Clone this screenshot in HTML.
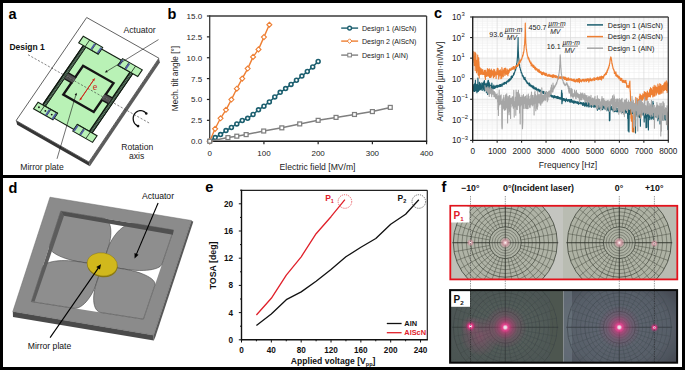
<!DOCTYPE html>
<html><head><meta charset="utf-8"><title>Figure</title>
<style>
html,body{margin:0;padding:0;background:#fff;}
body{width:685px;height:370px;overflow:hidden;font-family:"Liberation Sans", sans-serif;}
svg{display:block;font-family:"Liberation Sans", sans-serif;}
</style></head><body>
<svg width="685" height="370" viewBox="0 0 685 370" font-family="Liberation Sans, sans-serif">
<rect x="0" y="0" width="685" height="370" fill="#fff"/>
<defs><clipPath id="clipc"><rect x="472.7" y="17" width="195.6" height="123.4"/></clipPath></defs>
<polygon points="16.10,120.60 88.90,162.00 89.90,166.20 17.10,124.80" fill="#363636" stroke="none" stroke-width="1" />
<polygon points="88.90,162.00 158.90,58.20 159.90,62.40 89.90,166.20" fill="#5c5c5c" stroke="none" stroke-width="1" />
<polygon points="86.70,17.50 158.90,58.20 88.90,162.00 16.10,120.60" fill="#fff" stroke="#505050" stroke-width="0.9" />
<polygon points="83.34,45.50 98.11,53.91 101.51,48.96 121.41,60.29 118.02,65.24 132.79,73.64 92.13,132.94 77.35,124.53 73.96,129.48 54.05,118.15 57.45,113.20 42.67,104.80" fill="#b9f2b6" stroke="#142014" stroke-width="1.1" />
<polygon points="83.34,45.50 86.12,47.08 45.45,106.38 42.67,104.80" fill="#34463a" stroke="none" stroke-width="1" />
<polygon points="83.50,46.51 85.23,47.50 84.84,48.07 83.10,47.08" fill="#6f8f76" stroke="none" stroke-width="1" />
<polygon points="82.53,47.91 84.27,48.90 83.88,49.48 82.14,48.49" fill="#6f8f76" stroke="none" stroke-width="1" />
<polygon points="81.57,49.31 83.31,50.30 82.92,50.88 81.18,49.89" fill="#6f8f76" stroke="none" stroke-width="1" />
<polygon points="80.61,50.71 82.35,51.70 81.95,52.28 80.22,51.29" fill="#6f8f76" stroke="none" stroke-width="1" />
<polygon points="79.65,52.11 81.39,53.10 80.99,53.68 79.25,52.69" fill="#6f8f76" stroke="none" stroke-width="1" />
<polygon points="78.69,53.52 80.43,54.51 80.03,55.08 78.29,54.09" fill="#6f8f76" stroke="none" stroke-width="1" />
<polygon points="77.73,54.92 79.47,55.91 79.07,56.49 77.33,55.50" fill="#6f8f76" stroke="none" stroke-width="1" />
<polygon points="76.77,56.32 78.50,57.31 78.11,57.89 76.37,56.90" fill="#6f8f76" stroke="none" stroke-width="1" />
<polygon points="75.80,57.72 77.54,58.71 77.15,59.29 75.41,58.30" fill="#6f8f76" stroke="none" stroke-width="1" />
<polygon points="74.84,59.12 76.58,60.11 76.18,60.69 74.45,59.70" fill="#6f8f76" stroke="none" stroke-width="1" />
<polygon points="73.88,60.53 75.62,61.52 75.22,62.09 73.49,61.10" fill="#6f8f76" stroke="none" stroke-width="1" />
<polygon points="72.92,61.93 74.66,62.92 74.26,63.50 72.52,62.51" fill="#6f8f76" stroke="none" stroke-width="1" />
<polygon points="71.96,63.33 73.70,64.32 73.30,64.90 71.56,63.91" fill="#6f8f76" stroke="none" stroke-width="1" />
<polygon points="71.00,64.73 72.73,65.72 72.34,66.30 70.60,65.31" fill="#6f8f76" stroke="none" stroke-width="1" />
<polygon points="70.03,66.13 71.77,67.12 71.38,67.70 69.64,66.71" fill="#6f8f76" stroke="none" stroke-width="1" />
<polygon points="69.07,67.54 70.81,68.53 70.42,69.10 68.68,68.11" fill="#6f8f76" stroke="none" stroke-width="1" />
<polygon points="68.11,68.94 69.85,69.93 69.45,70.51 67.72,69.52" fill="#6f8f76" stroke="none" stroke-width="1" />
<polygon points="67.15,70.34 68.89,71.33 68.49,71.91 66.75,70.92" fill="#6f8f76" stroke="none" stroke-width="1" />
<polygon points="66.19,71.74 67.93,72.73 67.53,73.31 65.79,72.32" fill="#6f8f76" stroke="none" stroke-width="1" />
<polygon points="65.23,73.14 66.97,74.13 66.57,74.71 64.83,73.72" fill="#6f8f76" stroke="none" stroke-width="1" />
<polygon points="64.27,74.55 66.00,75.54 65.61,76.11 63.87,75.12" fill="#6f8f76" stroke="none" stroke-width="1" />
<polygon points="63.30,75.95 65.04,76.94 64.65,77.52 62.91,76.53" fill="#6f8f76" stroke="none" stroke-width="1" />
<polygon points="62.34,77.35 64.08,78.34 63.69,78.92 61.95,77.93" fill="#6f8f76" stroke="none" stroke-width="1" />
<polygon points="61.38,78.75 63.12,79.74 62.72,80.32 60.99,79.33" fill="#6f8f76" stroke="none" stroke-width="1" />
<polygon points="60.42,80.15 62.16,81.14 61.76,81.72 60.02,80.73" fill="#6f8f76" stroke="none" stroke-width="1" />
<polygon points="59.46,81.56 61.20,82.55 60.80,83.12 59.06,82.13" fill="#6f8f76" stroke="none" stroke-width="1" />
<polygon points="58.50,82.96 60.23,83.95 59.84,84.53 58.10,83.54" fill="#6f8f76" stroke="none" stroke-width="1" />
<polygon points="57.54,84.36 59.27,85.35 58.88,85.93 57.14,84.94" fill="#6f8f76" stroke="none" stroke-width="1" />
<polygon points="56.57,85.76 58.31,86.75 57.92,87.33 56.18,86.34" fill="#6f8f76" stroke="none" stroke-width="1" />
<polygon points="55.61,87.16 57.35,88.15 56.95,88.73 55.22,87.74" fill="#6f8f76" stroke="none" stroke-width="1" />
<polygon points="54.65,88.57 56.39,89.56 55.99,90.13 54.25,89.14" fill="#6f8f76" stroke="none" stroke-width="1" />
<polygon points="53.69,89.97 55.43,90.96 55.03,91.53 53.29,90.55" fill="#6f8f76" stroke="none" stroke-width="1" />
<polygon points="52.73,91.37 54.47,92.36 54.07,92.94 52.33,91.95" fill="#6f8f76" stroke="none" stroke-width="1" />
<polygon points="51.77,92.77 53.50,93.76 53.11,94.34 51.37,93.35" fill="#6f8f76" stroke="none" stroke-width="1" />
<polygon points="50.80,94.17 52.54,95.16 52.15,95.74 50.41,94.75" fill="#6f8f76" stroke="none" stroke-width="1" />
<polygon points="49.84,95.58 51.58,96.57 51.19,97.14 49.45,96.15" fill="#6f8f76" stroke="none" stroke-width="1" />
<polygon points="48.88,96.98 50.62,97.97 50.22,98.54 48.49,97.56" fill="#6f8f76" stroke="none" stroke-width="1" />
<polygon points="47.92,98.38 49.66,99.37 49.26,99.95 47.52,98.96" fill="#6f8f76" stroke="none" stroke-width="1" />
<polygon points="46.96,99.78 48.70,100.77 48.30,101.35 46.56,100.36" fill="#6f8f76" stroke="none" stroke-width="1" />
<polygon points="46.00,101.18 47.74,102.17 47.34,102.75 45.60,101.76" fill="#6f8f76" stroke="none" stroke-width="1" />
<polygon points="45.04,102.59 46.77,103.58 46.38,104.15 44.64,103.16" fill="#6f8f76" stroke="none" stroke-width="1" />
<polygon points="44.07,103.99 45.81,104.98 45.42,105.55 43.68,104.57" fill="#6f8f76" stroke="none" stroke-width="1" />
<line x1="83.34" y1="45.50" x2="42.67" y2="104.80" stroke="#0d150d" stroke-width="1.3" />
<line x1="86.12" y1="47.08" x2="45.45" y2="106.38" stroke="#0d150d" stroke-width="0.9" />
<polygon points="130.01,72.06 132.79,73.64 92.13,132.94 89.34,131.36" fill="#34463a" stroke="none" stroke-width="1" />
<polygon points="130.17,73.07 131.91,74.06 131.51,74.63 129.77,73.64" fill="#6f8f76" stroke="none" stroke-width="1" />
<polygon points="129.21,74.47 130.94,75.46 130.55,76.04 128.81,75.05" fill="#6f8f76" stroke="none" stroke-width="1" />
<polygon points="128.24,75.87 129.98,76.86 129.59,77.44 127.85,76.45" fill="#6f8f76" stroke="none" stroke-width="1" />
<polygon points="127.28,77.27 129.02,78.26 128.62,78.84 126.89,77.85" fill="#6f8f76" stroke="none" stroke-width="1" />
<polygon points="126.32,78.67 128.06,79.66 127.66,80.24 125.92,79.25" fill="#6f8f76" stroke="none" stroke-width="1" />
<polygon points="125.36,80.08 127.10,81.07 126.70,81.64 124.96,80.65" fill="#6f8f76" stroke="none" stroke-width="1" />
<polygon points="124.40,81.48 126.14,82.47 125.74,83.05 124.00,82.06" fill="#6f8f76" stroke="none" stroke-width="1" />
<polygon points="123.44,82.88 125.17,83.87 124.78,84.45 123.04,83.46" fill="#6f8f76" stroke="none" stroke-width="1" />
<polygon points="122.47,84.28 124.21,85.27 123.82,85.85 122.08,84.86" fill="#6f8f76" stroke="none" stroke-width="1" />
<polygon points="121.51,85.68 123.25,86.67 122.86,87.25 121.12,86.26" fill="#6f8f76" stroke="none" stroke-width="1" />
<polygon points="120.55,87.09 122.29,88.08 121.89,88.65 120.16,87.66" fill="#6f8f76" stroke="none" stroke-width="1" />
<polygon points="119.59,88.49 121.33,89.48 120.93,90.06 119.19,89.07" fill="#6f8f76" stroke="none" stroke-width="1" />
<polygon points="118.63,89.89 120.37,90.88 119.97,91.46 118.23,90.47" fill="#6f8f76" stroke="none" stroke-width="1" />
<polygon points="117.67,91.29 119.41,92.28 119.01,92.86 117.27,91.87" fill="#6f8f76" stroke="none" stroke-width="1" />
<polygon points="116.71,92.69 118.44,93.68 118.05,94.26 116.31,93.27" fill="#6f8f76" stroke="none" stroke-width="1" />
<polygon points="115.74,94.10 117.48,95.09 117.09,95.66 115.35,94.67" fill="#6f8f76" stroke="none" stroke-width="1" />
<polygon points="114.78,95.50 116.52,96.49 116.12,97.07 114.39,96.08" fill="#6f8f76" stroke="none" stroke-width="1" />
<polygon points="113.82,96.90 115.56,97.89 115.16,98.47 113.43,97.48" fill="#6f8f76" stroke="none" stroke-width="1" />
<polygon points="112.86,98.30 114.60,99.29 114.20,99.87 112.46,98.88" fill="#6f8f76" stroke="none" stroke-width="1" />
<polygon points="111.90,99.70 113.64,100.69 113.24,101.27 111.50,100.28" fill="#6f8f76" stroke="none" stroke-width="1" />
<polygon points="110.94,101.11 112.67,102.10 112.28,102.67 110.54,101.68" fill="#6f8f76" stroke="none" stroke-width="1" />
<polygon points="109.97,102.51 111.71,103.50 111.32,104.08 109.58,103.09" fill="#6f8f76" stroke="none" stroke-width="1" />
<polygon points="109.01,103.91 110.75,104.90 110.36,105.48 108.62,104.49" fill="#6f8f76" stroke="none" stroke-width="1" />
<polygon points="108.05,105.31 109.79,106.30 109.39,106.88 107.66,105.89" fill="#6f8f76" stroke="none" stroke-width="1" />
<polygon points="107.09,106.71 108.83,107.70 108.43,108.28 106.69,107.29" fill="#6f8f76" stroke="none" stroke-width="1" />
<polygon points="106.13,108.12 107.87,109.11 107.47,109.68 105.73,108.69" fill="#6f8f76" stroke="none" stroke-width="1" />
<polygon points="105.17,109.52 106.91,110.51 106.51,111.09 104.77,110.10" fill="#6f8f76" stroke="none" stroke-width="1" />
<polygon points="104.21,110.92 105.94,111.91 105.55,112.49 103.81,111.50" fill="#6f8f76" stroke="none" stroke-width="1" />
<polygon points="103.24,112.32 104.98,113.31 104.59,113.89 102.85,112.90" fill="#6f8f76" stroke="none" stroke-width="1" />
<polygon points="102.28,113.72 104.02,114.71 103.63,115.29 101.89,114.30" fill="#6f8f76" stroke="none" stroke-width="1" />
<polygon points="101.32,115.13 103.06,116.12 102.66,116.69 100.93,115.70" fill="#6f8f76" stroke="none" stroke-width="1" />
<polygon points="100.36,116.53 102.10,117.52 101.70,118.09 99.96,117.11" fill="#6f8f76" stroke="none" stroke-width="1" />
<polygon points="99.40,117.93 101.14,118.92 100.74,119.50 99.00,118.51" fill="#6f8f76" stroke="none" stroke-width="1" />
<polygon points="98.44,119.33 100.17,120.32 99.78,120.90 98.04,119.91" fill="#6f8f76" stroke="none" stroke-width="1" />
<polygon points="97.48,120.73 99.21,121.72 98.82,122.30 97.08,121.31" fill="#6f8f76" stroke="none" stroke-width="1" />
<polygon points="96.51,122.14 98.25,123.13 97.86,123.70 96.12,122.71" fill="#6f8f76" stroke="none" stroke-width="1" />
<polygon points="95.55,123.54 97.29,124.53 96.89,125.10 95.16,124.12" fill="#6f8f76" stroke="none" stroke-width="1" />
<polygon points="94.59,124.94 96.33,125.93 95.93,126.51 94.19,125.52" fill="#6f8f76" stroke="none" stroke-width="1" />
<polygon points="93.63,126.34 95.37,127.33 94.97,127.91 93.23,126.92" fill="#6f8f76" stroke="none" stroke-width="1" />
<polygon points="92.67,127.74 94.41,128.73 94.01,129.31 92.27,128.32" fill="#6f8f76" stroke="none" stroke-width="1" />
<polygon points="91.71,129.15 93.44,130.14 93.05,130.71 91.31,129.72" fill="#6f8f76" stroke="none" stroke-width="1" />
<polygon points="90.74,130.55 92.48,131.54 92.09,132.11 90.35,131.13" fill="#6f8f76" stroke="none" stroke-width="1" />
<line x1="130.01" y1="72.06" x2="89.34" y2="131.36" stroke="#0d150d" stroke-width="1.3" />
<line x1="132.79" y1="73.64" x2="92.13" y2="132.94" stroke="#0d150d" stroke-width="0.9" />
<polygon points="83.26,36.28 102.64,47.31 98.11,53.91 78.73,42.88" fill="#b9f2b6" stroke="#142014" stroke-width="1.1" />
<line x1="89.69" y1="39.94" x2="85.17" y2="46.54" stroke="#142014" stroke-width="0.8" />
<line x1="96.12" y1="43.60" x2="91.60" y2="50.20" stroke="#142014" stroke-width="0.8" />
<polygon points="94.05,43.45 95.61,44.34 91.88,49.79 90.32,48.90" fill="#4f5fa0" stroke="none" stroke-width="1" />
<polygon points="100.57,47.16 102.13,48.05 98.40,53.50 96.83,52.61" fill="#4f5fa0" stroke="none" stroke-width="1" />
<polygon points="122.54,58.64 142.27,69.87 137.75,76.46 118.02,65.24" fill="#b9f2b6" stroke="#142014" stroke-width="1.1" />
<line x1="129.06" y1="62.35" x2="124.54" y2="68.94" stroke="#142014" stroke-width="0.8" />
<line x1="135.58" y1="66.06" x2="131.05" y2="72.65" stroke="#142014" stroke-width="0.8" />
<polygon points="122.03,59.38 123.60,60.27 119.86,65.71 118.30,64.82" fill="#4f5fa0" stroke="none" stroke-width="1" />
<polygon points="128.55,63.09 130.12,63.98 126.38,69.42 124.82,68.53" fill="#4f5fa0" stroke="none" stroke-width="1" />
<polygon points="38.07,102.18 57.45,113.20 52.92,119.80 33.54,108.77" fill="#b9f2b6" stroke="#142014" stroke-width="1.1" />
<line x1="44.50" y1="105.84" x2="39.97" y2="112.43" stroke="#142014" stroke-width="0.8" />
<line x1="50.93" y1="109.50" x2="46.41" y2="116.09" stroke="#142014" stroke-width="0.8" />
<polygon points="48.86,109.35 50.42,110.24 46.69,115.68 45.12,114.79" fill="#4f5fa0" stroke="none" stroke-width="1" />
<polygon points="55.37,113.06 56.94,113.95 53.21,119.39 51.64,118.50" fill="#4f5fa0" stroke="none" stroke-width="1" />
<polygon points="77.35,124.53 97.08,135.76 92.55,142.36 72.83,131.13" fill="#b9f2b6" stroke="#142014" stroke-width="1.1" />
<line x1="83.87" y1="128.24" x2="79.34" y2="134.84" stroke="#142014" stroke-width="0.8" />
<line x1="90.39" y1="131.95" x2="85.86" y2="138.55" stroke="#142014" stroke-width="0.8" />
<polygon points="76.84,125.27 78.41,126.16 74.67,131.61 73.11,130.72" fill="#4f5fa0" stroke="none" stroke-width="1" />
<polygon points="83.36,128.98 84.92,129.87 81.19,135.32 79.63,134.43" fill="#4f5fa0" stroke="none" stroke-width="1" />
<circle cx="38.93" cy="107.25" r="0.9" fill="#111"/>
<circle cx="45.37" cy="110.91" r="0.9" fill="#111"/>
<circle cx="51.71" cy="114.53" r="0.9" fill="#111"/>
<polygon points="83.09,65.77 113.51,83.08 93.72,111.94 63.30,94.63" fill="#b9f2b6" stroke="#151515" stroke-width="2.4" />
<polygon points="68.36,72.98 76.36,77.53 72.40,83.30 64.40,78.75" fill="#505050" stroke="none" stroke-width="1" />
<line x1="66.64" y1="76.01" x2="74.12" y2="80.27" stroke="#8a8a8a" stroke-width="0.5" />
<line x1="68.36" y1="72.98" x2="76.36" y2="77.53" stroke="#151515" stroke-width="1.4" />
<line x1="64.40" y1="78.75" x2="72.40" y2="83.30" stroke="#151515" stroke-width="1.4" />
<polygon points="104.86,93.75 112.25,97.96 108.29,103.73 100.90,99.53" fill="#505050" stroke="none" stroke-width="1" />
<line x1="103.14" y1="96.79" x2="110.01" y2="100.69" stroke="#8a8a8a" stroke-width="0.5" />
<line x1="104.86" y1="93.75" x2="112.25" y2="97.96" stroke="#151515" stroke-width="1.4" />
<line x1="100.90" y1="99.53" x2="108.29" y2="103.73" stroke="#151515" stroke-width="1.4" />
<line x1="28.00" y1="54.70" x2="150.40" y2="123.70" stroke="#333" stroke-width="0.6" stroke-dasharray="2.2 1.6"/>
<line x1="94.70" y1="78.45" x2="80.90" y2="98.57" stroke="#cc2a1c" stroke-width="0.9" />
<polygon points="79.71,100.30 80.11,97.42 82.25,98.90" fill="#cc2a1c" stroke="none" stroke-width="1" />
<line x1="79.71" y1="100.30" x2="93.51" y2="80.18" stroke="#cc2a1c" stroke-width="0.9" />
<polygon points="94.70,78.45 94.30,81.33 92.15,79.86" fill="#cc2a1c" stroke="none" stroke-width="1" />
<text x="92.8" y="89.8" font-size="10" font-family="Liberation Serif, serif" fill="#cc2a1c">e</text>
<line x1="158.50" y1="39.60" x2="106.69" y2="71.40" stroke="#111" stroke-width="0.6" />
<polygon points="104.90,72.50 106.49,70.12 107.74,72.16" fill="#111" stroke="none" stroke-width="1" />
<line x1="57.00" y1="158.80" x2="75.91" y2="94.71" stroke="#111" stroke-width="0.6" />
<polygon points="76.50,92.70 76.92,95.53 74.61,94.85" fill="#111" stroke="none" stroke-width="1" />
<polyline points="146.3,113.5 145.8,112.9 145.3,112.4 144.8,112.0 144.2,111.6 143.6,111.3 142.9,111.0 142.3,110.8 141.6,110.7 141.0,110.6 140.3,110.6 139.6,110.7 138.9,110.8 138.3,111.0 137.6,111.3 137.0,111.6 136.5,112.0 135.9,112.4 135.4,112.9 135.0,113.4 134.5,114.0 134.2,114.6 133.9,115.3 133.6,116.0 133.4,116.7 133.3,117.4 133.2,118.1 133.2,118.8 133.3,119.6 133.4,120.3 133.5,121.0 133.8,121.7 134.1,122.4 134.4,123.0 134.8,123.6 135.3,124.1 135.7,124.6 136.3,125.1 136.8,125.5 137.4,125.8 138.1,126.1" fill="none" stroke="#111" stroke-width="1.3" stroke-linejoin="round" />
<circle cx="146.27" cy="113.46" r="1.3" fill="#111"/>
<circle cx="138.07" cy="126.11" r="1.3" fill="#111"/>
<text x="8.60" y="18.60" font-size="14.5" text-anchor="start" font-weight="bold" fill="#000" >a</text>
<text x="9.40" y="50.40" font-size="8.5" text-anchor="start" font-weight="bold" fill="#111" >Design 1</text>
<text x="123.40" y="32.90" font-size="8.7" text-anchor="start" fill="#222" >Actuator</text>
<text x="20.30" y="170.20" font-size="8.6" text-anchor="start" fill="#222" >Mirror plate</text>
<text x="137.20" y="149.90" font-size="8.6" text-anchor="middle" fill="#222" >Rotation</text>
<text x="136.70" y="159.30" font-size="8.6" text-anchor="middle" fill="#222" >axis</text>
<line x1="209.70" y1="16.00" x2="426.60" y2="16.00" stroke="#3a3a3a" stroke-width="1.3" />
<line x1="426.60" y1="16.00" x2="426.60" y2="141.20" stroke="#3a3a3a" stroke-width="1.3" />
<line x1="209.70" y1="15.35" x2="209.70" y2="141.80" stroke="#3a3a3a" stroke-width="1.3" />
<line x1="209.10" y1="141.20" x2="427.20" y2="141.20" stroke="#1a1a1a" stroke-width="1.4" />
<line x1="206.90" y1="141.20" x2="209.70" y2="141.20" stroke="#222" stroke-width="1.2" />
<text x="202.20" y="144.10" font-size="8" text-anchor="end" fill="#222" >0.0</text>
<line x1="206.90" y1="120.33" x2="209.70" y2="120.33" stroke="#222" stroke-width="1.2" />
<text x="202.20" y="123.23" font-size="8" text-anchor="end" fill="#222" >2.5</text>
<line x1="206.90" y1="99.47" x2="209.70" y2="99.47" stroke="#222" stroke-width="1.2" />
<text x="202.20" y="102.37" font-size="8" text-anchor="end" fill="#222" >5.0</text>
<line x1="206.90" y1="78.60" x2="209.70" y2="78.60" stroke="#222" stroke-width="1.2" />
<text x="202.20" y="81.50" font-size="8" text-anchor="end" fill="#222" >7.5</text>
<line x1="206.90" y1="57.73" x2="209.70" y2="57.73" stroke="#222" stroke-width="1.2" />
<text x="202.20" y="60.63" font-size="8" text-anchor="end" fill="#222" >10.0</text>
<line x1="206.90" y1="36.87" x2="209.70" y2="36.87" stroke="#222" stroke-width="1.2" />
<text x="202.20" y="39.77" font-size="8" text-anchor="end" fill="#222" >12.5</text>
<line x1="206.90" y1="16.00" x2="209.70" y2="16.00" stroke="#222" stroke-width="1.2" />
<text x="202.20" y="18.90" font-size="8" text-anchor="end" fill="#222" >15.0</text>
<line x1="209.70" y1="141.20" x2="209.70" y2="144.20" stroke="#222" stroke-width="1.2" />
<text x="209.70" y="155.90" font-size="8" text-anchor="middle" fill="#222" >0</text>
<line x1="263.93" y1="141.20" x2="263.93" y2="144.20" stroke="#222" stroke-width="1.2" />
<text x="263.93" y="155.90" font-size="8" text-anchor="middle" fill="#222" >100</text>
<line x1="318.15" y1="141.20" x2="318.15" y2="144.20" stroke="#222" stroke-width="1.2" />
<text x="318.15" y="155.90" font-size="8" text-anchor="middle" fill="#222" >200</text>
<line x1="372.38" y1="141.20" x2="372.38" y2="144.20" stroke="#222" stroke-width="1.2" />
<text x="372.38" y="155.90" font-size="8" text-anchor="middle" fill="#222" >300</text>
<line x1="426.60" y1="141.20" x2="426.60" y2="144.20" stroke="#222" stroke-width="1.2" />
<text x="426.60" y="155.90" font-size="8" text-anchor="middle" fill="#222" >400</text>
<text x="317.50" y="170.00" font-size="8.6" text-anchor="middle" fill="#222" >Electric field [MV/m]</text>
<text x="0" y="0" font-size="8.2" text-anchor="middle" fill="#222" transform="translate(177.6 78.6) rotate(-90)">Mech. tilt angle [°]</text>
<polyline points="209.7,141.2 215.1,137.6 220.5,134.6 226.0,130.6 231.4,127.5 236.8,123.9 242.2,120.5 247.7,118.3 253.1,114.5 258.5,109.8 263.9,106.2 269.3,102.0 274.8,97.0 280.2,92.4 285.6,88.6 291.0,84.4 296.5,80.3 301.9,76.1 307.3,71.5 312.7,66.9 318.1,61.5" fill="none" stroke="#1c5f6f" stroke-width="1.5" stroke-linejoin="round" />
<circle cx="209.70" cy="141.20" r="1.95" fill="#fff" stroke="#1c5f6f" stroke-width="1.6"/>
<circle cx="215.12" cy="137.61" r="1.95" fill="#fff" stroke="#1c5f6f" stroke-width="1.6"/>
<circle cx="220.54" cy="134.61" r="1.95" fill="#fff" stroke="#1c5f6f" stroke-width="1.6"/>
<circle cx="225.97" cy="130.60" r="1.95" fill="#fff" stroke="#1c5f6f" stroke-width="1.6"/>
<circle cx="231.39" cy="127.51" r="1.95" fill="#fff" stroke="#1c5f6f" stroke-width="1.6"/>
<circle cx="236.81" cy="123.92" r="1.95" fill="#fff" stroke="#1c5f6f" stroke-width="1.6"/>
<circle cx="242.24" cy="120.50" r="1.95" fill="#fff" stroke="#1c5f6f" stroke-width="1.6"/>
<circle cx="247.66" cy="118.33" r="1.95" fill="#fff" stroke="#1c5f6f" stroke-width="1.6"/>
<circle cx="253.08" cy="114.49" r="1.95" fill="#fff" stroke="#1c5f6f" stroke-width="1.6"/>
<circle cx="258.50" cy="109.82" r="1.95" fill="#fff" stroke="#1c5f6f" stroke-width="1.6"/>
<circle cx="263.93" cy="106.23" r="1.95" fill="#fff" stroke="#1c5f6f" stroke-width="1.6"/>
<circle cx="269.35" cy="101.97" r="1.95" fill="#fff" stroke="#1c5f6f" stroke-width="1.6"/>
<circle cx="274.77" cy="96.96" r="1.95" fill="#fff" stroke="#1c5f6f" stroke-width="1.6"/>
<circle cx="280.19" cy="92.37" r="1.95" fill="#fff" stroke="#1c5f6f" stroke-width="1.6"/>
<circle cx="285.62" cy="88.62" r="1.95" fill="#fff" stroke="#1c5f6f" stroke-width="1.6"/>
<circle cx="291.04" cy="84.44" r="1.95" fill="#fff" stroke="#1c5f6f" stroke-width="1.6"/>
<circle cx="296.46" cy="80.27" r="1.95" fill="#fff" stroke="#1c5f6f" stroke-width="1.6"/>
<circle cx="301.88" cy="76.10" r="1.95" fill="#fff" stroke="#1c5f6f" stroke-width="1.6"/>
<circle cx="307.31" cy="71.51" r="1.95" fill="#fff" stroke="#1c5f6f" stroke-width="1.6"/>
<circle cx="312.73" cy="66.91" r="1.95" fill="#fff" stroke="#1c5f6f" stroke-width="1.6"/>
<circle cx="318.15" cy="61.49" r="1.95" fill="#fff" stroke="#1c5f6f" stroke-width="1.6"/>
<polyline points="209.7,141.2 215.1,128.8 220.5,118.3 226.0,109.8 231.4,99.6 236.8,88.7 242.2,78.6 247.7,68.6 253.1,56.9 258.5,49.4 263.9,37.1 269.3,24.8" fill="none" stroke="#ee7f33" stroke-width="1.4" stroke-linejoin="round" />
<polygon points="209.70,138.70 212.20,141.20 209.70,143.70 207.20,141.20" fill="#fff" stroke="#ee7f33" stroke-width="1.1" />
<polygon points="215.12,126.35 217.62,128.85 215.12,131.35 212.62,128.85" fill="#fff" stroke="#ee7f33" stroke-width="1.1" />
<polygon points="220.54,115.83 223.04,118.33 220.54,120.83 218.04,118.33" fill="#fff" stroke="#ee7f33" stroke-width="1.1" />
<polygon points="225.97,107.32 228.47,109.82 225.97,112.32 223.47,109.82" fill="#fff" stroke="#ee7f33" stroke-width="1.1" />
<polygon points="231.39,97.05 233.89,99.55 231.39,102.05 228.89,99.55" fill="#fff" stroke="#ee7f33" stroke-width="1.1" />
<polygon points="236.81,86.20 239.31,88.70 236.81,91.20 234.31,88.70" fill="#fff" stroke="#ee7f33" stroke-width="1.1" />
<polygon points="242.24,76.10 244.74,78.60 242.24,81.10 239.74,78.60" fill="#fff" stroke="#ee7f33" stroke-width="1.1" />
<polygon points="247.66,66.08 250.16,68.58 247.66,71.08 245.16,68.58" fill="#fff" stroke="#ee7f33" stroke-width="1.1" />
<polygon points="253.08,54.40 255.58,56.90 253.08,59.40 250.58,56.90" fill="#fff" stroke="#ee7f33" stroke-width="1.1" />
<polygon points="258.50,46.89 261.00,49.39 258.50,51.89 256.00,49.39" fill="#fff" stroke="#ee7f33" stroke-width="1.1" />
<polygon points="263.93,34.62 266.43,37.12 263.93,39.62 261.43,37.12" fill="#fff" stroke="#ee7f33" stroke-width="1.1" />
<polygon points="269.35,22.26 271.85,24.76 269.35,27.26 266.85,24.76" fill="#fff" stroke="#ee7f33" stroke-width="1.1" />
<polyline points="209.7,141.2 227.9,137.6 236.8,136.2 246.1,134.6 263.7,131.0 281.8,127.8 299.7,123.9 318.1,120.3 336.0,117.4 354.5,114.5 372.4,111.6 390.3,107.4" fill="none" stroke="#7f7f7f" stroke-width="1.5" stroke-linejoin="round" />
<rect x="207.75" y="139.25" width="3.9" height="3.9" fill="#fff" stroke="#7f7f7f" stroke-width="1.25"/>
<rect x="225.97" y="135.66" width="3.9" height="3.9" fill="#fff" stroke="#7f7f7f" stroke-width="1.25"/>
<rect x="234.86" y="134.24" width="3.9" height="3.9" fill="#fff" stroke="#7f7f7f" stroke-width="1.25"/>
<rect x="244.19" y="132.66" width="3.9" height="3.9" fill="#fff" stroke="#7f7f7f" stroke-width="1.25"/>
<rect x="261.76" y="129.07" width="3.9" height="3.9" fill="#fff" stroke="#7f7f7f" stroke-width="1.25"/>
<rect x="279.87" y="125.90" width="3.9" height="3.9" fill="#fff" stroke="#7f7f7f" stroke-width="1.25"/>
<rect x="297.76" y="121.97" width="3.9" height="3.9" fill="#fff" stroke="#7f7f7f" stroke-width="1.25"/>
<rect x="316.20" y="118.38" width="3.9" height="3.9" fill="#fff" stroke="#7f7f7f" stroke-width="1.25"/>
<rect x="334.09" y="115.46" width="3.9" height="3.9" fill="#fff" stroke="#7f7f7f" stroke-width="1.25"/>
<rect x="352.53" y="112.54" width="3.9" height="3.9" fill="#fff" stroke="#7f7f7f" stroke-width="1.25"/>
<rect x="370.43" y="109.62" width="3.9" height="3.9" fill="#fff" stroke="#7f7f7f" stroke-width="1.25"/>
<rect x="388.32" y="105.45" width="3.9" height="3.9" fill="#fff" stroke="#7f7f7f" stroke-width="1.25"/>
<line x1="341.20" y1="28.10" x2="358.10" y2="28.10" stroke="#1c5f6f" stroke-width="1.4" />
<circle cx="349.6" cy="28.1" r="1.9" fill="#fff" stroke="#1c5f6f" stroke-width="1.4"/>
<text x="362.00" y="30.70" font-size="7.1" text-anchor="start" fill="#222" >Design 1 (AlScN)</text>
<line x1="341.20" y1="41.10" x2="358.10" y2="41.10" stroke="#ee7f33" stroke-width="1.4" />
<polygon points="349.60,38.80 351.90,41.10 349.60,43.40 347.30,41.10" fill="#fff" stroke="#ee7f33" stroke-width="1.0" />
<text x="362.00" y="43.70" font-size="7.1" text-anchor="start" fill="#222" >Design 2 (AlScN)</text>
<line x1="341.20" y1="55.10" x2="358.10" y2="55.10" stroke="#7f7f7f" stroke-width="1.4" />
<rect x="347.8" y="53.300000000000004" width="3.6" height="3.6" fill="#fff" stroke="#7f7f7f" stroke-width="1.0"/>
<text x="362.00" y="57.70" font-size="7.1" text-anchor="start" fill="#222" >Design 1 (AlN)</text>
<text x="167.60" y="18.80" font-size="14.5" text-anchor="start" font-weight="bold" fill="#000" >b</text>
<line x1="477.59" y1="17.00" x2="477.59" y2="140.40" stroke="#efefef" stroke-width="0.6" />
<line x1="482.48" y1="17.00" x2="482.48" y2="140.40" stroke="#efefef" stroke-width="0.6" />
<line x1="487.37" y1="17.00" x2="487.37" y2="140.40" stroke="#efefef" stroke-width="0.6" />
<line x1="492.26" y1="17.00" x2="492.26" y2="140.40" stroke="#efefef" stroke-width="0.6" />
<line x1="502.04" y1="17.00" x2="502.04" y2="140.40" stroke="#efefef" stroke-width="0.6" />
<line x1="506.93" y1="17.00" x2="506.93" y2="140.40" stroke="#efefef" stroke-width="0.6" />
<line x1="511.82" y1="17.00" x2="511.82" y2="140.40" stroke="#efefef" stroke-width="0.6" />
<line x1="516.71" y1="17.00" x2="516.71" y2="140.40" stroke="#efefef" stroke-width="0.6" />
<line x1="526.49" y1="17.00" x2="526.49" y2="140.40" stroke="#efefef" stroke-width="0.6" />
<line x1="531.38" y1="17.00" x2="531.38" y2="140.40" stroke="#efefef" stroke-width="0.6" />
<line x1="536.27" y1="17.00" x2="536.27" y2="140.40" stroke="#efefef" stroke-width="0.6" />
<line x1="541.16" y1="17.00" x2="541.16" y2="140.40" stroke="#efefef" stroke-width="0.6" />
<line x1="550.94" y1="17.00" x2="550.94" y2="140.40" stroke="#efefef" stroke-width="0.6" />
<line x1="555.83" y1="17.00" x2="555.83" y2="140.40" stroke="#efefef" stroke-width="0.6" />
<line x1="560.72" y1="17.00" x2="560.72" y2="140.40" stroke="#efefef" stroke-width="0.6" />
<line x1="565.61" y1="17.00" x2="565.61" y2="140.40" stroke="#efefef" stroke-width="0.6" />
<line x1="575.39" y1="17.00" x2="575.39" y2="140.40" stroke="#efefef" stroke-width="0.6" />
<line x1="580.28" y1="17.00" x2="580.28" y2="140.40" stroke="#efefef" stroke-width="0.6" />
<line x1="585.17" y1="17.00" x2="585.17" y2="140.40" stroke="#efefef" stroke-width="0.6" />
<line x1="590.06" y1="17.00" x2="590.06" y2="140.40" stroke="#efefef" stroke-width="0.6" />
<line x1="599.84" y1="17.00" x2="599.84" y2="140.40" stroke="#efefef" stroke-width="0.6" />
<line x1="604.73" y1="17.00" x2="604.73" y2="140.40" stroke="#efefef" stroke-width="0.6" />
<line x1="609.62" y1="17.00" x2="609.62" y2="140.40" stroke="#efefef" stroke-width="0.6" />
<line x1="614.51" y1="17.00" x2="614.51" y2="140.40" stroke="#efefef" stroke-width="0.6" />
<line x1="624.29" y1="17.00" x2="624.29" y2="140.40" stroke="#efefef" stroke-width="0.6" />
<line x1="629.18" y1="17.00" x2="629.18" y2="140.40" stroke="#efefef" stroke-width="0.6" />
<line x1="634.07" y1="17.00" x2="634.07" y2="140.40" stroke="#efefef" stroke-width="0.6" />
<line x1="638.96" y1="17.00" x2="638.96" y2="140.40" stroke="#efefef" stroke-width="0.6" />
<line x1="648.74" y1="17.00" x2="648.74" y2="140.40" stroke="#efefef" stroke-width="0.6" />
<line x1="653.63" y1="17.00" x2="653.63" y2="140.40" stroke="#efefef" stroke-width="0.6" />
<line x1="658.52" y1="17.00" x2="658.52" y2="140.40" stroke="#efefef" stroke-width="0.6" />
<line x1="663.41" y1="17.00" x2="663.41" y2="140.40" stroke="#efefef" stroke-width="0.6" />
<line x1="472.70" y1="134.21" x2="668.30" y2="134.21" stroke="#efefef" stroke-width="0.6" />
<line x1="472.70" y1="130.59" x2="668.30" y2="130.59" stroke="#efefef" stroke-width="0.6" />
<line x1="472.70" y1="128.02" x2="668.30" y2="128.02" stroke="#efefef" stroke-width="0.6" />
<line x1="472.70" y1="126.02" x2="668.30" y2="126.02" stroke="#efefef" stroke-width="0.6" />
<line x1="472.70" y1="124.40" x2="668.30" y2="124.40" stroke="#efefef" stroke-width="0.6" />
<line x1="472.70" y1="123.02" x2="668.30" y2="123.02" stroke="#efefef" stroke-width="0.6" />
<line x1="472.70" y1="121.83" x2="668.30" y2="121.83" stroke="#efefef" stroke-width="0.6" />
<line x1="472.70" y1="120.77" x2="668.30" y2="120.77" stroke="#efefef" stroke-width="0.6" />
<line x1="472.70" y1="113.64" x2="668.30" y2="113.64" stroke="#efefef" stroke-width="0.6" />
<line x1="472.70" y1="110.02" x2="668.30" y2="110.02" stroke="#efefef" stroke-width="0.6" />
<line x1="472.70" y1="107.45" x2="668.30" y2="107.45" stroke="#efefef" stroke-width="0.6" />
<line x1="472.70" y1="105.46" x2="668.30" y2="105.46" stroke="#efefef" stroke-width="0.6" />
<line x1="472.70" y1="103.83" x2="668.30" y2="103.83" stroke="#efefef" stroke-width="0.6" />
<line x1="472.70" y1="102.45" x2="668.30" y2="102.45" stroke="#efefef" stroke-width="0.6" />
<line x1="472.70" y1="101.26" x2="668.30" y2="101.26" stroke="#efefef" stroke-width="0.6" />
<line x1="472.70" y1="100.21" x2="668.30" y2="100.21" stroke="#efefef" stroke-width="0.6" />
<line x1="472.70" y1="93.08" x2="668.30" y2="93.08" stroke="#efefef" stroke-width="0.6" />
<line x1="472.70" y1="89.45" x2="668.30" y2="89.45" stroke="#efefef" stroke-width="0.6" />
<line x1="472.70" y1="86.88" x2="668.30" y2="86.88" stroke="#efefef" stroke-width="0.6" />
<line x1="472.70" y1="84.89" x2="668.30" y2="84.89" stroke="#efefef" stroke-width="0.6" />
<line x1="472.70" y1="83.26" x2="668.30" y2="83.26" stroke="#efefef" stroke-width="0.6" />
<line x1="472.70" y1="81.89" x2="668.30" y2="81.89" stroke="#efefef" stroke-width="0.6" />
<line x1="472.70" y1="80.69" x2="668.30" y2="80.69" stroke="#efefef" stroke-width="0.6" />
<line x1="472.70" y1="79.64" x2="668.30" y2="79.64" stroke="#efefef" stroke-width="0.6" />
<line x1="472.70" y1="72.51" x2="668.30" y2="72.51" stroke="#efefef" stroke-width="0.6" />
<line x1="472.70" y1="68.89" x2="668.30" y2="68.89" stroke="#efefef" stroke-width="0.6" />
<line x1="472.70" y1="66.32" x2="668.30" y2="66.32" stroke="#efefef" stroke-width="0.6" />
<line x1="472.70" y1="64.32" x2="668.30" y2="64.32" stroke="#efefef" stroke-width="0.6" />
<line x1="472.70" y1="62.70" x2="668.30" y2="62.70" stroke="#efefef" stroke-width="0.6" />
<line x1="472.70" y1="61.32" x2="668.30" y2="61.32" stroke="#efefef" stroke-width="0.6" />
<line x1="472.70" y1="60.13" x2="668.30" y2="60.13" stroke="#efefef" stroke-width="0.6" />
<line x1="472.70" y1="59.07" x2="668.30" y2="59.07" stroke="#efefef" stroke-width="0.6" />
<line x1="472.70" y1="51.94" x2="668.30" y2="51.94" stroke="#efefef" stroke-width="0.6" />
<line x1="472.70" y1="48.32" x2="668.30" y2="48.32" stroke="#efefef" stroke-width="0.6" />
<line x1="472.70" y1="45.75" x2="668.30" y2="45.75" stroke="#efefef" stroke-width="0.6" />
<line x1="472.70" y1="43.76" x2="668.30" y2="43.76" stroke="#efefef" stroke-width="0.6" />
<line x1="472.70" y1="42.13" x2="668.30" y2="42.13" stroke="#efefef" stroke-width="0.6" />
<line x1="472.70" y1="40.75" x2="668.30" y2="40.75" stroke="#efefef" stroke-width="0.6" />
<line x1="472.70" y1="39.56" x2="668.30" y2="39.56" stroke="#efefef" stroke-width="0.6" />
<line x1="472.70" y1="38.51" x2="668.30" y2="38.51" stroke="#efefef" stroke-width="0.6" />
<line x1="472.70" y1="31.38" x2="668.30" y2="31.38" stroke="#efefef" stroke-width="0.6" />
<line x1="472.70" y1="27.75" x2="668.30" y2="27.75" stroke="#efefef" stroke-width="0.6" />
<line x1="472.70" y1="25.18" x2="668.30" y2="25.18" stroke="#efefef" stroke-width="0.6" />
<line x1="472.70" y1="23.19" x2="668.30" y2="23.19" stroke="#efefef" stroke-width="0.6" />
<line x1="472.70" y1="21.56" x2="668.30" y2="21.56" stroke="#efefef" stroke-width="0.6" />
<line x1="472.70" y1="20.19" x2="668.30" y2="20.19" stroke="#efefef" stroke-width="0.6" />
<line x1="472.70" y1="18.99" x2="668.30" y2="18.99" stroke="#efefef" stroke-width="0.6" />
<line x1="472.70" y1="17.94" x2="668.30" y2="17.94" stroke="#efefef" stroke-width="0.6" />
<line x1="497.15" y1="17.00" x2="497.15" y2="140.40" stroke="#d9d9d9" stroke-width="0.7" />
<line x1="521.60" y1="17.00" x2="521.60" y2="140.40" stroke="#d9d9d9" stroke-width="0.7" />
<line x1="546.05" y1="17.00" x2="546.05" y2="140.40" stroke="#d9d9d9" stroke-width="0.7" />
<line x1="570.50" y1="17.00" x2="570.50" y2="140.40" stroke="#d9d9d9" stroke-width="0.7" />
<line x1="594.95" y1="17.00" x2="594.95" y2="140.40" stroke="#d9d9d9" stroke-width="0.7" />
<line x1="619.40" y1="17.00" x2="619.40" y2="140.40" stroke="#d9d9d9" stroke-width="0.7" />
<line x1="643.85" y1="17.00" x2="643.85" y2="140.40" stroke="#d9d9d9" stroke-width="0.7" />
<line x1="472.70" y1="119.83" x2="668.30" y2="119.83" stroke="#d9d9d9" stroke-width="0.7" />
<line x1="472.70" y1="99.27" x2="668.30" y2="99.27" stroke="#d9d9d9" stroke-width="0.7" />
<line x1="472.70" y1="78.70" x2="668.30" y2="78.70" stroke="#d9d9d9" stroke-width="0.7" />
<line x1="472.70" y1="58.13" x2="668.30" y2="58.13" stroke="#d9d9d9" stroke-width="0.7" />
<line x1="472.70" y1="37.57" x2="668.30" y2="37.57" stroke="#d9d9d9" stroke-width="0.7" />
<g clip-path="url(#clipc)">
<polyline points="473.4,91.1 473.6,86.5 473.7,84.7 473.8,89.1 473.9,91.4 474.1,87.8 474.2,86.2 474.3,84.4 474.4,91.1 474.6,91.3 474.7,85.5 474.8,86.2 474.9,83.2 475.1,84.8 475.2,87.9 475.3,88.4 475.4,80.2 475.6,88.4 475.7,89.8 475.8,90.9 475.9,87.3 476.1,87.2 476.2,88.6 476.3,87.8 476.4,86.8 476.6,85.6 476.7,84.4 476.8,87.0 476.9,92.7 477.1,85.6 477.2,91.7 477.3,88.1 477.4,91.8 477.6,87.6 477.7,89.8 477.8,87.0 477.9,78.1 478.1,87.7 478.2,85.2 478.3,91.4 478.4,88.4 478.6,85.7 478.7,87.8 478.8,86.5 478.9,87.3 479.1,90.5 479.2,86.0 479.3,89.9 479.4,82.2 479.6,89.0 479.7,85.6 479.8,87.6 479.9,84.8 480.1,89.3 480.2,84.7 480.3,87.9 480.4,83.9 480.6,85.8 480.7,87.2 480.8,89.8 480.9,85.4 481.1,86.2 481.2,82.9 481.3,88.7 481.4,86.0 481.6,86.1 481.7,86.8 481.8,87.0 481.9,87.1 482.1,89.3 482.2,90.5 482.3,88.7 482.4,85.9 482.6,83.2 482.7,84.8 482.8,84.5 482.9,85.3 483.1,85.6 483.2,87.1 483.3,85.4 483.4,82.5 483.6,88.5 483.7,89.6 483.8,81.9 483.9,86.9 484.1,84.8 484.2,85.1 484.3,90.9 484.4,80.6 484.6,82.5 484.7,87.1 484.8,85.4 484.9,87.2 485.1,90.1 485.2,87.9 485.3,86.5 485.4,84.4 485.6,85.5 485.7,87.4 485.8,83.7 485.9,89.8 486.1,85.3 486.2,84.4 486.3,88.4 486.4,92.7 486.6,90.2 486.7,86.9 486.8,86.1 486.9,83.1 487.1,90.5 487.2,87.6 487.3,85.7 487.4,88.0 487.6,94.4 487.7,85.3 487.8,80.9 487.9,84.7 488.1,90.2 488.2,88.8 488.3,86.9 488.4,80.4 488.6,85.8 488.7,87.3 488.8,83.1 488.9,87.8 489.1,82.2 489.2,89.6 489.3,88.9 489.4,85.5 489.6,83.5 489.7,85.7 489.8,86.7 489.9,92.8 490.1,89.6 490.2,89.3 490.3,89.1 490.4,85.9 490.6,88.5 490.7,85.3 490.8,87.3 490.9,88.5 491.1,87.2 491.2,86.3 491.3,85.1 491.4,89.0 491.6,88.3 491.7,91.5 491.8,83.0 491.9,83.4 492.1,88.1 492.2,89.0 492.3,88.3 492.4,87.5 492.6,87.4 492.7,86.2 492.8,87.3 492.9,87.9 493.1,88.9 493.2,86.5 493.3,87.3 493.4,88.4 493.6,87.2 493.7,88.3 493.8,85.1 493.9,86.6 494.1,86.9 494.2,87.3 494.3,88.5 494.4,87.2 494.6,88.0 494.7,86.7 494.8,88.3 494.9,87.6 495.1,86.2 495.2,85.9 495.3,87.6 495.4,87.8 495.6,86.3 495.7,86.3 495.8,87.4 495.9,87.2 496.1,87.1 496.2,87.4 496.3,87.0 496.4,85.8 496.6,86.1 496.7,85.3 496.8,86.5 496.9,86.5 497.1,87.0 497.2,86.4 497.3,87.1 497.4,87.4 497.6,85.8 497.7,85.3 497.8,85.7 497.9,85.3 498.1,85.9 498.2,86.5 498.3,86.0 498.4,86.2 498.6,86.6 498.7,86.9 498.8,86.8 498.9,85.8 499.1,85.7 499.2,86.0 499.3,84.8 499.4,85.5 499.6,85.2 499.7,84.8 499.8,86.0 499.9,86.7 500.1,84.9 500.2,85.8 500.3,84.5 500.4,85.1 500.6,84.6 500.7,84.7 500.8,86.4 500.9,84.6 501.1,85.4 501.2,85.4 501.3,85.2 501.5,84.4 501.6,84.3 501.7,84.1 501.8,85.7 502.0,85.0 502.1,86.1 502.2,84.6 502.3,84.1 502.5,84.9 502.6,84.2 502.7,84.2 502.8,83.6 503.0,84.7 503.1,84.6 503.2,84.5 503.3,82.9 503.5,83.3 503.6,84.0 503.7,83.7 503.8,83.7 504.0,83.6 504.1,83.8 504.2,83.8 504.3,84.3 504.5,83.8 504.6,82.4 504.7,83.0 504.8,83.2 505.0,83.3 505.1,83.1 505.2,82.8 505.3,83.3 505.5,82.7 505.6,82.6 505.7,83.2 505.8,83.1 506.0,83.2 506.1,83.1 506.2,81.9 506.3,83.8 506.5,82.4 506.6,82.5 506.7,82.5 506.8,81.9 507.0,81.2 507.1,81.8 507.2,81.8 507.3,82.0 507.5,81.6 507.6,80.9 507.7,81.6 507.8,82.0 508.0,82.0 508.1,81.8 508.2,81.8 508.3,80.2 508.5,80.6 508.6,80.8 508.7,79.7 508.8,80.9 509.0,79.9 509.1,79.7 509.2,81.1 509.3,81.0 509.5,80.5 509.6,79.2 509.7,78.9 509.8,80.3 510.0,78.8 510.1,79.5 510.2,79.4 510.3,79.4 510.5,79.1 510.6,79.9 510.7,79.3 510.8,79.3 511.0,78.0 511.1,76.9 511.2,76.4 511.3,78.1 511.5,78.8 511.6,77.8 511.7,78.0 511.8,76.0 512.0,76.7 512.1,77.4 512.2,76.2 512.3,76.2 512.5,77.4 512.6,76.5 512.7,76.2 512.8,75.8 513.0,75.5 513.1,75.6 513.2,75.1 513.3,75.3 513.5,75.3 513.6,73.6 513.7,74.0 513.8,73.7 514.0,74.7 514.1,73.6 514.2,72.7 514.3,73.7 514.5,72.0 514.6,72.6 514.7,71.8 514.8,71.8 515.0,71.2 515.1,70.3 515.2,70.9 515.3,69.3 515.5,70.3 515.6,70.0 515.7,68.5 515.8,69.1 516.0,68.2 516.1,66.9 516.2,66.1 516.3,67.4 516.5,65.3 516.6,63.7 516.7,63.4 516.8,63.4 517.0,62.7 517.1,61.4 517.2,60.7 517.3,58.8 517.5,57.1 517.6,55.0 517.7,51.5 517.8,48.6 518.0,43.5 518.1,37.5 518.1,39.5 518.2,46.1 518.3,50.6 518.5,53.9 518.6,56.7 518.7,58.1 518.8,58.1 519.0,61.2 519.1,62.1 519.2,62.3 519.3,63.5 519.5,64.3 519.6,65.0 519.7,67.5 519.8,67.4 520.0,67.5 520.1,67.8 520.2,67.9 520.3,68.9 520.5,69.8 520.6,70.1 520.7,70.7 520.8,70.8 521.0,71.0 521.1,72.0 521.2,72.7 521.3,73.0 521.5,72.2 521.6,72.4 521.7,72.9 521.8,73.3 522.0,73.6 522.1,74.4 522.2,74.3 522.3,75.6 522.5,75.4 522.6,76.0 522.7,75.3 522.8,76.4 523.0,76.3 523.1,76.2 523.2,75.9 523.3,77.4 523.5,77.7 523.6,76.9 523.7,78.3 523.8,77.5 524.0,78.4 524.1,78.3 524.2,79.5 524.3,78.1 524.5,79.1 524.6,79.5 524.7,77.9 524.8,78.9 525.0,77.3 525.1,79.4 525.2,80.1 525.3,79.9 525.5,79.2 525.6,80.3 525.7,80.2 525.8,80.3 526.0,81.4 526.1,80.9 526.2,81.4 526.3,82.0 526.5,80.8 526.6,81.1 526.7,81.6 526.8,82.4 527.0,83.2 527.1,81.8 527.2,82.3 527.3,83.4 527.5,82.5 527.6,83.5 527.7,82.8 527.8,82.8 528.0,82.8 528.1,83.0 528.2,83.1 528.3,84.1 528.5,83.7 528.6,83.9 528.7,83.9 528.8,83.7 529.0,83.6 529.1,83.0 529.2,85.7 529.3,84.0 529.5,84.5 529.6,83.1 529.7,84.0 529.8,85.7 530.0,84.6 530.1,85.2 530.2,84.4 530.3,85.8 530.5,85.3 530.6,85.4 530.7,85.5 530.8,85.9 531.0,86.7 531.1,85.4 531.2,85.2 531.3,85.9 531.5,86.6 531.6,86.0 531.7,85.8 531.8,86.4 532.0,86.4 532.1,85.6 532.2,87.2 532.3,87.0 532.5,87.9 532.6,87.2 532.7,87.4 532.8,87.6 533.0,87.5 533.1,86.0 533.2,87.4 533.3,87.4 533.5,86.1 533.6,87.5 533.7,88.6 533.8,87.4 534.0,88.3 534.1,86.8 534.2,88.7 534.3,88.3 534.5,89.0 534.6,88.1 534.7,88.8 534.8,88.3 535.0,88.6 535.1,88.8 535.2,87.9 535.3,88.0 535.5,88.6 535.6,89.3 535.7,89.5 535.8,88.7 536.0,87.5 536.1,89.3 536.2,89.6 536.3,89.6 536.5,89.9 536.6,89.9 536.7,89.5 536.8,88.6 537.0,89.5 537.1,89.9 537.2,90.7 537.3,89.6 537.5,89.8 537.6,90.6 537.7,90.6 537.8,90.0 538.0,89.4 538.1,89.7 538.2,90.1 538.3,90.5 538.5,90.1 538.6,90.4 538.7,89.1 538.8,91.2 539.0,90.8 539.1,89.9 539.2,90.9 539.3,89.9 539.5,90.9 539.6,90.8 539.7,91.2 539.8,91.9 540.0,91.7 540.1,89.8 540.2,90.8 540.3,90.9 540.5,90.7 540.6,91.0 540.7,90.8 540.8,91.7 541.0,91.7 541.1,91.0 541.2,91.9 541.3,92.6 541.5,91.9 541.6,92.2 541.7,91.5 541.8,92.4 542.0,92.7 542.1,92.3 542.2,91.2 542.3,92.2 542.5,92.1 542.6,92.3 542.7,92.2 542.9,91.8 543.0,91.6 543.1,93.5 543.2,91.7 543.4,92.6 543.5,92.9 543.6,91.3 543.7,92.9 543.9,91.6 544.0,92.3 544.1,93.6 544.2,92.7 544.4,92.6 544.5,93.2 544.6,94.6 544.7,93.4 544.9,93.4 545.0,94.0 545.1,92.2 545.2,93.6 545.4,93.7 545.5,93.7 545.6,94.0 545.7,94.1 545.9,93.6 546.0,93.5 546.1,94.1 546.2,93.9 546.4,94.7 546.5,93.6 546.6,94.4 546.7,93.9 546.9,94.6 547.0,94.4 547.1,94.0 547.2,94.9 547.4,92.7 547.5,94.3 547.6,94.4 547.7,94.8 547.9,93.4 548.0,93.6 548.1,94.3 548.2,95.4 548.4,94.9 548.5,94.3 548.6,95.0 548.7,95.5 548.9,95.5 549.0,95.3 549.1,94.9 549.2,95.3 549.4,95.0 549.5,93.3 549.6,94.0 549.7,95.8 549.9,94.9 550.0,95.1 550.1,95.3 550.2,94.6 550.4,95.5 550.5,95.6 550.6,95.7 550.7,95.5 550.9,94.7 551.0,95.1 551.1,96.4 551.2,95.9 551.4,96.2 551.5,95.2 551.6,95.6 551.7,95.3 551.9,95.9 552.0,97.1 552.1,95.7 552.2,95.8 552.4,95.7 552.5,96.9 552.6,96.0 552.7,96.6 552.9,96.6 553.0,96.0 553.1,96.0 553.2,96.9 553.4,97.4 553.5,97.9 553.6,96.8 553.7,95.8 553.9,96.5 554.0,97.9 554.1,97.1 554.2,96.4 554.4,95.6 554.5,96.0 554.6,96.5 554.7,96.7 554.9,97.5 555.0,97.1 555.1,97.1 555.2,97.4 555.4,96.9 555.5,97.3 555.6,96.8 555.7,96.2 555.9,96.7 556.0,96.9 556.1,97.4 556.2,98.2 556.4,97.4 556.5,97.0 556.6,98.0 556.7,96.6 556.9,97.6 557.0,97.2 557.1,97.7 557.2,98.3 557.4,96.3 557.5,98.3 557.6,97.1 557.7,98.0 557.9,97.6 558.0,98.3 558.1,98.1 558.2,97.3 558.4,96.7 558.5,98.4 558.6,97.9 558.7,97.4 558.9,98.4 559.0,97.6 559.1,98.6 559.2,97.8 559.4,97.9 559.5,97.4 559.6,98.0 559.7,99.0 559.9,97.9 560.0,99.0 560.1,97.9 560.2,97.5 560.4,98.1 560.5,98.8 560.6,97.8 560.7,98.4 560.9,99.3 561.0,98.8 561.1,97.8 561.2,98.9 561.4,96.7 561.5,92.6 561.6,93.2 561.7,90.3 561.9,103.7 562.0,92.9 562.1,103.3 562.2,93.4 562.4,101.0 562.5,101.1 562.6,98.2 562.7,99.3 562.9,99.9 563.0,99.1 563.1,99.4 563.2,100.2 563.4,98.7 563.5,99.6 563.6,98.9 563.7,100.2 563.9,98.7 564.0,100.3 564.1,98.8 564.2,100.6 564.4,98.7 564.5,99.8 564.6,100.5 564.7,99.8 564.9,99.4 565.0,100.3 565.1,100.0 565.2,99.6 565.4,99.9 565.5,101.7 565.6,100.1 565.7,99.6 565.9,99.7 566.0,99.3 566.1,100.4 566.2,98.4 566.4,99.5 566.5,99.9 566.6,99.4 566.7,99.5 566.9,100.1 567.0,100.6 567.1,99.6 567.2,100.0 567.4,101.4 567.5,101.0 567.6,100.0 567.7,100.3 567.9,100.2 568.0,100.0 568.1,100.4 568.2,99.5 568.4,100.9 568.5,100.8 568.6,100.4 568.7,100.1 568.9,100.1 569.0,99.7 569.1,101.0 569.2,100.0 569.4,100.5 569.5,101.4 569.6,100.9 569.7,99.6 569.9,100.4 570.0,101.2 570.1,102.4 570.2,101.4 570.4,101.4 570.5,101.0 570.6,99.6 570.7,100.6 570.9,100.9 571.0,101.7 571.1,101.9 571.2,101.3 571.4,101.5 571.5,99.4 571.6,101.5 571.7,101.7 571.9,100.6 572.0,101.3 572.1,102.2 572.2,100.6 572.4,101.6 572.5,102.3 572.6,101.3 572.7,101.2 572.9,101.8 573.0,101.2 573.1,101.1 573.2,102.2 573.4,102.9 573.5,103.2 573.6,101.8 573.7,101.0 573.9,101.2 574.0,101.0 574.1,100.7 574.2,101.9 574.4,101.2 574.5,102.9 574.6,101.5 574.7,101.7 574.9,102.1 575.0,102.3 575.1,102.7 575.2,102.0 575.4,101.3 575.5,102.4 575.6,101.8 575.7,102.6 575.9,102.1 576.0,102.9 576.1,102.0 576.2,102.4 576.4,102.1 576.5,102.7 576.6,103.1 576.7,102.6 576.9,101.8 577.0,101.5 577.1,102.7 577.2,102.0 577.4,102.1 577.5,102.3 577.6,103.5 577.7,102.4 577.9,103.2 578.0,101.9 578.1,102.2 578.2,102.3 578.4,104.3 578.5,102.4 578.6,102.4 578.7,103.6 578.9,102.2 579.0,102.8 579.1,103.0 579.2,103.4 579.4,103.6 579.5,103.2 579.6,101.1 579.7,102.9 579.9,102.9 580.0,103.5 580.1,103.5 580.2,103.5 580.4,103.7 580.5,102.6 580.6,103.4 580.7,102.7 580.9,104.0 581.0,102.7 581.1,103.3 581.2,102.9 581.4,103.4 581.5,103.9 581.6,102.7 581.7,103.7 581.9,103.5 582.0,104.0 582.1,103.4 582.2,103.8 582.4,103.4 582.5,103.4 582.6,104.0 582.7,105.4 582.9,103.1 583.0,102.5 583.1,102.8 583.2,105.1 583.4,103.0 583.5,103.3 583.6,103.4 583.7,103.3 583.9,104.2 584.0,103.6 584.1,102.7 584.2,104.5 584.4,105.7 584.5,104.1 584.6,103.7 584.8,106.3 584.9,104.9 585.0,103.3 585.1,104.3 585.3,104.0 585.4,105.7 585.5,103.0 585.6,102.0 585.8,104.4 585.9,105.1 586.0,105.7 586.1,103.2 586.3,104.2 586.4,105.3 586.5,102.8 586.6,103.4 586.8,103.6 586.9,106.6 587.0,104.6 587.1,103.7 587.3,106.0 587.4,103.4 587.5,102.8 587.6,103.3 587.8,105.5 587.9,105.5 588.0,103.5 588.1,103.4 588.3,103.1 588.4,103.2 588.5,104.8 588.6,105.2 588.8,107.0 588.9,103.8 589.0,102.0 589.1,105.4 589.3,105.4 589.4,104.1 589.5,104.4 589.6,106.6 589.8,105.8 589.9,106.3 590.0,102.5 590.1,105.9 590.3,104.0 590.4,102.7 590.5,102.7 590.6,103.3 590.8,103.1 590.9,106.7 591.0,105.6 591.1,106.1 591.3,105.6 591.4,102.0 591.5,107.3 591.6,104.6 591.8,106.8 591.9,103.7 592.0,103.7 592.1,106.0 592.3,102.8 592.4,105.3 592.5,103.8 592.6,105.1 592.8,106.2 592.9,106.0 593.0,105.7 593.1,104.8 593.3,105.4 593.4,102.7 593.5,105.8 593.6,106.2 593.8,106.5 593.9,106.6 594.0,107.5 594.1,106.9 594.3,104.6 594.4,105.7 594.5,106.0 594.6,105.4 594.8,104.5 594.9,105.1 595.0,104.9 595.1,106.6 595.3,106.2 595.4,106.9 595.5,106.1 595.6,107.0 595.8,106.5 595.9,106.2 596.0,106.3 596.1,106.4 596.3,106.7 596.4,104.5 596.5,106.6 596.6,107.4 596.8,105.9 596.9,107.5 597.0,107.6 597.1,106.1 597.3,108.3 597.4,110.3 597.5,106.0 597.6,105.1 597.8,108.4 597.9,107.5 598.0,105.7 598.1,108.9 598.3,107.5 598.4,108.0 598.5,106.7 598.6,109.0 598.8,105.4 598.9,106.7 599.0,106.2 599.1,107.0 599.3,109.3 599.4,106.8 599.5,108.3 599.6,106.7 599.8,107.8 599.9,107.1 600.0,107.0 600.1,105.8 600.3,105.9 600.4,108.1 600.5,106.9 600.6,105.1 600.8,106.3 600.9,107.8 601.0,107.1 601.1,107.4 601.3,105.8 601.4,107.0 601.5,106.6 601.6,104.3 601.8,108.8 601.9,108.4 602.0,109.3 602.1,109.1 602.3,106.1 602.4,106.8 602.5,105.2 602.6,109.7 602.8,108.3 602.9,105.5 603.0,106.0 603.1,106.2 603.3,106.3 603.4,107.3 603.5,107.4 603.6,107.4 603.8,106.4 603.9,107.7 604.0,107.1 604.1,105.7 604.3,108.9 604.4,108.5 604.5,106.9 604.6,107.9 604.8,107.8 604.9,105.0 605.0,107.1 605.1,108.2 605.3,106.3 605.4,104.6 605.5,109.1 605.6,108.6 605.8,107.6 605.9,108.6 606.0,105.1 606.1,107.2 606.3,108.4 606.4,107.3 606.5,108.9 606.6,108.7 606.8,107.8 606.9,105.0 607.0,110.8 607.1,107.5 607.3,106.4 607.4,107.1 607.5,105.7 607.6,107.5 607.8,107.9 607.9,108.3 608.0,109.2 608.1,106.2 608.3,109.7 608.4,108.4 608.5,108.9 608.6,109.2 608.8,111.0 608.9,108.8 609.0,108.2 609.1,108.2 609.3,108.3 609.4,120.8 609.5,109.8 609.6,110.3 609.8,106.3 609.9,120.3 610.0,109.0 610.1,106.9 610.3,109.3 610.4,108.8 610.5,106.8 610.6,105.6 610.8,106.7 610.9,110.0 611.0,108.1 611.1,109.0 611.3,108.8 611.4,109.5 611.5,109.3 611.6,108.8 611.8,106.6 611.9,107.9 612.0,108.3 612.1,108.8 612.3,109.8 612.4,109.2 612.5,107.4 612.6,107.9 612.8,106.5 612.9,108.6 613.0,109.0 613.1,111.0 613.3,108.5 613.4,111.2 613.5,107.2 613.6,109.9 613.8,109.1 613.9,110.8 614.0,109.8 614.1,110.3 614.3,107.8 614.4,108.9 614.5,110.7 614.6,111.6 614.8,109.3 614.9,109.9 615.0,110.7 615.1,108.6 615.3,109.6 615.4,109.2 615.5,110.1 615.6,110.1 615.8,110.0 615.9,111.4 616.0,108.7 616.1,109.0 616.3,111.6 616.4,109.4 616.5,108.1 616.6,109.3 616.8,108.0 616.9,109.9 617.0,109.6 617.1,111.2 617.3,110.8 617.4,111.9 617.5,110.8 617.6,109.4 617.8,109.1 617.9,108.3 618.0,109.6 618.1,111.0 618.3,109.3 618.4,110.0 618.5,107.6 618.6,107.5 618.8,108.7 618.9,111.3 619.0,110.6 619.1,109.7 619.3,110.8 619.4,109.3 619.5,109.2 619.6,109.0 619.8,109.8 619.9,111.2 620.0,111.1 620.1,110.3 620.3,108.5 620.4,108.2 620.5,108.9 620.6,109.7 620.8,109.4 620.9,109.2 621.0,108.6 621.1,109.2 621.3,112.2 621.4,109.1 621.5,109.8 621.6,110.9 621.8,109.7 621.9,110.0 622.0,110.5 622.1,112.5 622.3,110.3 622.4,109.8 622.5,110.5 622.6,112.4 622.8,109.9 622.9,109.6 623.0,110.3 623.1,110.0 623.3,111.0 623.4,111.4 623.5,110.0 623.6,111.1 623.8,110.4 623.9,106.6 624.0,109.8 624.1,110.5 624.3,112.7 624.4,110.6 624.5,109.8 624.6,111.6 624.8,111.1 624.9,113.6 625.0,110.1 625.1,111.6 625.3,110.0 625.4,109.2 625.5,111.1 625.6,109.7 625.8,110.6 625.9,111.2 626.0,111.3 626.1,112.1 626.3,109.4 626.4,110.0 626.5,112.3 626.7,110.0 626.8,112.9 626.9,109.8 627.0,113.1 627.2,112.0 627.3,109.9 627.4,110.7 627.5,109.6 627.7,118.6 627.8,108.7 627.9,110.6 628.0,108.9 628.2,130.9 628.3,109.8 628.4,115.7 628.5,107.9 628.7,112.3 628.8,110.3 628.9,111.0 629.0,131.9 629.2,112.2 629.3,110.8 629.4,111.1 629.5,114.5 629.7,111.5 629.8,110.8 629.9,109.5 630.0,111.1 630.2,109.0 630.3,108.7 630.4,112.3 630.5,112.8 630.7,112.2 630.8,114.1 630.9,111.4 631.0,109.7 631.2,111.2 631.3,111.6 631.4,109.3 631.5,118.0 631.7,110.3 631.8,112.7 631.9,107.1 632.0,113.2 632.2,109.7 632.3,110.5 632.4,113.5 632.5,110.4 632.7,110.6 632.8,109.9 632.9,112.9 633.0,113.6 633.2,113.3 633.3,111.4 633.4,131.4 633.5,113.3 633.7,109.8 633.8,111.1 633.9,114.5 634.0,113.6 634.2,109.9 634.3,111.8 634.4,112.5 634.5,108.5 634.7,116.8 634.8,116.3 634.9,108.3 635.0,113.8 635.2,114.5 635.3,110.9 635.4,110.6 635.5,132.9 635.7,114.5 635.8,112.5 635.9,111.4 636.0,111.1 636.2,112.4 636.3,112.3 636.4,112.3 636.5,109.6 636.7,114.7 636.8,114.7 636.9,113.7 637.0,110.6 637.2,113.4 637.3,116.3 637.4,111.9 637.5,113.9 637.7,114.8 637.8,113.6 637.9,114.4 638.0,113.1 638.2,111.4 638.3,110.1 638.4,111.7 638.5,112.3 638.7,116.8 638.8,111.5 638.9,109.5 639.0,116.5 639.2,117.2 639.3,113.1 639.4,112.9 639.5,109.0 639.7,112.6 639.8,117.7 639.9,116.3 640.0,111.1 640.2,112.6 640.3,114.2 640.4,126.2 640.5,111.5 640.7,111.7 640.8,113.3 640.9,114.8 641.0,114.9 641.2,109.4 641.3,112.0 641.4,114.0 641.5,109.3 641.7,113.5 641.8,112.7 641.9,114.7 642.0,111.7 642.2,113.8 642.3,110.9 642.4,110.8 642.5,113.6 642.7,112.9 642.8,114.6 642.9,111.6 643.0,114.1 643.2,113.6 643.3,113.0 643.4,114.8 643.5,114.8 643.7,114.7 643.8,112.0 643.9,111.8 644.0,114.8 644.2,121.9 644.3,112.6 644.4,116.1 644.5,113.3 644.7,110.7 644.8,112.5 644.9,114.6 645.0,107.9 645.2,118.0 645.3,112.0 645.4,112.2 645.5,113.4 645.7,116.3 645.8,110.5 645.9,112.0 646.0,127.7 646.2,112.2 646.3,117.9 646.4,112.3 646.5,118.2 646.7,109.0 646.8,110.3 646.9,127.3 647.0,108.5 647.2,115.7 647.3,112.4 647.4,116.3 647.5,111.3 647.7,112.2 647.8,115.2 647.9,114.1 648.0,115.7 648.2,114.7 648.3,115.4 648.4,130.0 648.5,112.0 648.7,115.4 648.8,111.4 648.9,112.5 649.0,115.6 649.2,111.6 649.3,114.4 649.4,117.4 649.5,112.1 649.7,116.9 649.8,119.6 649.9,118.9 650.0,108.5 650.2,116.8 650.3,111.8 650.4,110.6 650.5,117.5 650.7,115.5 650.8,114.9 650.9,117.9 651.0,113.3 651.2,114.0 651.3,111.1 651.4,111.1 651.5,113.8 651.7,119.2 651.8,117.7 651.9,110.5 652.0,114.7 652.2,112.0 652.3,114.7 652.4,111.7 652.5,114.8 652.7,118.1 652.8,110.9 652.9,102.0 653.0,101.4 653.2,114.4 653.3,103.2 653.4,103.8 653.5,113.3 653.7,113.2 653.8,119.4 653.9,111.1 654.0,117.2 654.2,114.3 654.3,114.4 654.4,114.2 654.5,115.9 654.7,112.9 654.8,117.7 654.9,113.2 655.0,115.0 655.2,115.2 655.3,116.6 655.4,112.7 655.5,114.8 655.7,115.6 655.8,111.7 655.9,112.4 656.0,112.3 656.2,110.7 656.3,111.2 656.4,112.4 656.5,107.5 656.7,116.5 656.8,113.5 656.9,116.9 657.0,117.1 657.2,118.0 657.3,114.4 657.4,115.7 657.5,117.0 657.7,113.8 657.8,116.7 657.9,120.8 658.0,113.7 658.2,117.5 658.3,116.9 658.4,115.8 658.5,112.7 658.7,116.6 658.8,118.8 658.9,111.9 659.0,111.5 659.2,117.9 659.3,111.6 659.4,116.5 659.5,115.8 659.7,117.0 659.8,113.7 659.9,118.4 660.0,123.9 660.2,117.8 660.3,115.1 660.4,117.2 660.5,118.5 660.7,113.1 660.8,115.7 660.9,118.2 661.0,123.8 661.2,118.6 661.3,113.6 661.4,115.1 661.5,113.4 661.7,115.8 661.8,116.8 661.9,118.7 662.0,118.6 662.2,116.3 662.3,120.0 662.4,111.0 662.5,115.3 662.7,113.6 662.8,115.5 662.9,112.5 663.0,113.1 663.2,113.6 663.3,113.7 663.4,118.0 663.5,116.1 663.7,116.7 663.8,115.6 663.9,118.6 664.0,117.0 664.2,115.2 664.3,117.2 664.4,118.9 664.5,114.2 664.7,116.4 664.8,115.9 664.9,116.5 665.0,120.0 665.2,115.0 665.3,116.0 665.4,119.2 665.5,119.9 665.7,114.5 665.8,115.3 665.9,117.6 666.0,113.7 666.2,113.3 666.3,117.3 666.4,117.9 666.5,115.0 666.7,118.1 666.8,114.4 666.9,118.8 667.0,115.2 667.2,113.6 667.3,115.3 667.4,116.2 667.5,115.3 667.7,118.2 667.8,116.3 667.9,114.0 668.0,129.6 668.2,114.2 668.3,117.1" fill="none" stroke="#1c5f6f" stroke-width="1.15" stroke-linejoin="round" />
<polyline points="473.7,60.4 473.8,51.7 473.9,62.5 474.1,61.4 474.2,65.5 474.3,59.5 474.4,59.8 474.6,61.9 474.7,57.2 474.8,58.6 474.9,62.2 475.1,52.3 475.2,70.7 475.3,57.3 475.4,65.7 475.6,60.1 475.7,63.7 475.8,65.0 475.9,53.7 476.1,64.5 476.2,66.0 476.3,60.1 476.4,60.5 476.6,72.8 476.7,66.0 476.8,66.5 476.9,65.3 477.1,67.3 477.2,70.5 477.3,70.8 477.4,59.9 477.6,70.0 477.7,55.1 477.8,65.6 477.9,67.4 478.1,74.5 478.2,59.6 478.3,68.0 478.4,75.3 478.6,65.0 478.7,57.7 478.8,70.5 478.9,61.6 479.1,65.8 479.2,78.1 479.3,67.2 479.4,74.7 479.6,67.0 479.7,73.3 479.8,70.0 479.9,74.6 480.1,67.7 480.2,70.1 480.3,70.7 480.4,69.5 480.6,74.2 480.7,72.4 480.8,71.7 480.9,70.0 481.1,70.1 481.2,68.7 481.3,72.4 481.4,70.2 481.6,72.4 481.7,74.1 481.8,70.3 481.9,71.2 482.1,72.8 482.2,70.1 482.3,73.8 482.4,69.6 482.6,71.6 482.7,74.5 482.8,69.8 482.9,69.8 483.1,73.4 483.2,73.1 483.3,74.4 483.4,72.2 483.6,73.5 483.7,72.6 483.8,73.9 483.9,73.9 484.1,73.4 484.2,73.5 484.3,71.6 484.4,74.6 484.6,70.4 484.7,75.1 484.8,73.2 484.9,76.9 485.1,75.0 485.2,75.0 485.3,70.8 485.4,79.5 485.6,72.4 485.7,74.9 485.8,70.2 485.9,73.2 486.1,71.7 486.2,73.8 486.3,76.4 486.4,73.5 486.6,72.6 486.7,72.4 486.8,75.4 486.9,73.9 487.1,75.8 487.2,75.6 487.3,75.4 487.4,68.5 487.6,74.2 487.7,75.9 487.8,72.7 487.9,73.0 488.1,69.6 488.2,71.8 488.3,72.2 488.4,73.0 488.6,73.9 488.7,74.3 488.8,76.1 488.9,75.3 489.1,74.0 489.2,70.1 489.3,68.8 489.4,73.0 489.6,77.4 489.7,70.1 489.8,71.1 489.9,73.0 490.1,71.9 490.2,76.4 490.3,74.0 490.4,70.5 490.6,70.7 490.7,77.5 490.8,75.7 490.9,70.2 491.1,74.9 491.2,76.9 491.3,69.1 491.4,73.7 491.6,75.1 491.7,71.0 491.8,76.1 491.9,73.4 492.1,71.6 492.2,70.5 492.3,72.9 492.4,73.3 492.6,71.4 492.7,73.3 492.8,72.0 492.9,75.0 493.1,73.1 493.2,73.6 493.3,71.5 493.4,77.8 493.6,73.5 493.7,70.8 493.8,69.4 493.9,71.3 494.1,75.7 494.2,76.8 494.3,74.2 494.4,76.4 494.6,73.9 494.7,69.8 494.8,75.1 494.9,73.2 495.1,72.4 495.2,71.2 495.3,74.0 495.4,72.8 495.6,74.8 495.7,75.2 495.8,72.5 495.9,73.9 496.1,78.5 496.2,76.1 496.3,73.2 496.4,74.1 496.6,71.8 496.7,72.1 496.8,73.5 496.9,70.0 497.1,74.3 497.2,68.7 497.3,71.0 497.4,70.8 497.6,71.4 497.7,68.2 497.8,68.5 497.9,74.8 498.1,68.8 498.2,70.0 498.3,71.8 498.4,72.6 498.6,72.8 498.7,78.9 498.8,75.9 498.9,74.8 499.1,77.1 499.2,72.5 499.3,75.7 499.4,70.6 499.6,71.8 499.7,71.9 499.8,70.5 499.9,74.7 500.1,70.9 500.2,71.9 500.3,69.7 500.4,75.3 500.6,71.7 500.7,70.7 500.8,71.8 500.9,78.7 501.1,75.2 501.2,74.1 501.3,73.5 501.4,73.6 501.6,71.0 501.7,74.6 501.8,78.1 501.9,67.5 502.1,73.8 502.2,69.0 502.3,75.0 502.4,72.5 502.6,73.1 502.7,75.9 502.8,72.7 502.9,74.1 503.1,75.7 503.2,76.8 503.3,76.2 503.4,70.4 503.6,71.3 503.7,72.1 503.8,72.8 503.9,69.1 504.1,69.6 504.2,72.1 504.3,72.7 504.4,68.3 504.6,71.6 504.7,73.5 504.8,75.0 504.9,75.7 505.1,74.2 505.2,72.3 505.3,72.4 505.4,68.6 505.6,70.6 505.7,68.0 505.8,72.9 505.9,73.9 506.1,71.0 506.2,72.4 506.3,71.8 506.4,71.9 506.6,73.8 506.7,74.4 506.8,73.4 506.9,73.7 507.1,69.0 507.2,73.5 507.3,71.4 507.4,70.8 507.6,72.8 507.7,70.8 507.8,70.4 507.9,75.7 508.1,71.2 508.2,72.5 508.3,70.2 508.4,72.7 508.6,73.1 508.7,73.3 508.8,71.8 509.0,70.5 509.1,72.5 509.2,71.3 509.3,69.6 509.5,70.6 509.6,68.9 509.7,70.5 509.8,71.0 510.0,70.1 510.1,69.8 510.2,69.6 510.3,70.2 510.5,69.4 510.6,68.8 510.7,68.8 510.8,69.4 511.0,70.3 511.1,68.0 511.2,68.5 511.3,69.2 511.5,68.3 511.6,68.1 511.7,68.8 511.8,69.6 512.0,68.7 512.1,69.5 512.2,68.9 512.3,67.7 512.5,68.6 512.6,69.3 512.7,68.4 512.8,68.5 513.0,69.0 513.1,68.2 513.2,66.7 513.3,67.5 513.5,67.7 513.6,67.6 513.7,66.5 513.8,69.1 514.0,67.1 514.1,67.9 514.2,67.2 514.3,67.6 514.5,67.8 514.6,69.0 514.7,67.1 514.8,66.8 515.0,67.7 515.1,68.3 515.2,67.1 515.3,68.5 515.5,67.3 515.6,66.4 515.7,66.1 515.8,66.0 516.0,66.0 516.1,66.3 516.2,65.8 516.3,65.4 516.5,65.3 516.6,65.6 516.7,65.5 516.8,65.2 517.0,66.3 517.1,65.5 517.2,66.3 517.3,65.6 517.5,66.7 517.6,65.1 517.7,64.3 517.8,64.3 518.0,63.9 518.1,64.0 518.2,64.1 518.3,65.7 518.5,64.3 518.6,63.8 518.7,64.0 518.8,62.6 519.0,63.6 519.1,61.9 519.2,62.2 519.3,62.9 519.5,63.7 519.6,63.3 519.7,62.7 519.8,62.0 520.0,60.0 520.1,62.4 520.2,60.3 520.3,61.1 520.5,61.3 520.6,60.8 520.7,60.4 520.8,60.1 521.0,60.2 521.1,60.5 521.2,59.2 521.3,59.4 521.5,58.9 521.6,59.7 521.7,59.1 521.8,59.0 522.0,58.0 522.1,57.6 522.2,57.4 522.3,56.8 522.5,56.7 522.6,55.2 522.7,56.4 522.8,54.8 523.0,55.4 523.1,54.9 523.2,54.9 523.3,52.3 523.5,53.5 523.6,52.6 523.7,52.4 523.8,51.1 524.0,50.9 524.1,47.8 524.2,48.0 524.3,45.4 524.5,45.0 524.6,45.6 524.7,42.2 524.8,39.7 525.0,36.9 525.1,33.3 525.2,25.8 525.3,23.1 525.3,27.0 525.5,32.8 525.6,36.9 525.7,39.3 525.8,43.0 526.0,44.3 526.1,46.4 526.2,48.0 526.3,49.3 526.5,49.8 526.6,49.6 526.7,51.6 526.8,51.9 527.0,52.6 527.1,53.8 527.2,53.8 527.3,55.3 527.5,55.4 527.6,55.7 527.7,55.8 527.8,57.1 528.0,56.7 528.1,58.3 528.2,59.0 528.3,58.0 528.5,57.5 528.6,57.5 528.7,58.3 528.8,59.1 529.0,58.2 529.1,59.7 529.2,60.6 529.3,59.7 529.5,61.2 529.6,61.8 529.7,60.8 529.8,60.6 530.0,62.0 530.1,62.5 530.2,62.1 530.3,61.9 530.5,63.3 530.6,63.0 530.7,62.6 530.8,62.9 531.0,62.1 531.1,62.9 531.2,65.7 531.3,63.0 531.5,64.7 531.6,64.0 531.7,65.6 531.8,64.2 532.0,66.0 532.1,64.4 532.2,64.0 532.3,65.5 532.5,65.0 532.6,65.5 532.7,65.8 532.8,66.6 533.0,66.1 533.1,65.9 533.2,67.3 533.3,65.1 533.5,67.5 533.6,66.9 533.7,67.1 533.8,67.2 534.0,67.4 534.1,65.8 534.2,67.6 534.3,67.7 534.5,67.2 534.6,68.2 534.7,69.0 534.8,67.0 535.0,68.2 535.1,67.4 535.2,67.5 535.3,67.1 535.5,68.0 535.6,68.5 535.7,70.0 535.8,68.2 536.0,69.6 536.1,68.1 536.2,69.5 536.3,70.0 536.5,69.3 536.6,69.6 536.7,69.4 536.8,69.0 537.0,68.7 537.1,69.7 537.2,68.9 537.3,69.8 537.5,71.2 537.6,70.8 537.7,70.3 537.8,70.4 538.0,70.0 538.1,71.2 538.2,71.5 538.3,70.1 538.5,71.0 538.6,69.5 538.7,71.7 538.8,71.5 539.0,69.4 539.1,72.5 539.2,72.5 539.3,71.3 539.5,72.1 539.6,71.7 539.7,70.7 539.8,71.8 540.0,71.7 540.1,71.2 540.2,72.6 540.3,73.1 540.5,71.8 540.6,72.1 540.7,71.7 540.8,72.7 541.0,72.6 541.1,72.5 541.2,72.2 541.3,71.9 541.5,72.4 541.6,74.4 541.7,73.0 541.8,73.2 542.0,73.4 542.1,73.3 542.2,72.7 542.3,74.8 542.5,72.8 542.6,72.6 542.7,72.7 542.8,73.7 543.0,74.4 543.1,74.4 543.2,73.8 543.3,72.1 543.5,74.2 543.6,73.6 543.7,72.8 543.8,72.9 544.0,73.8 544.1,73.4 544.2,72.8 544.3,73.6 544.5,73.9 544.6,74.6 544.7,74.3 544.8,74.4 545.0,75.4 545.1,74.8 545.2,73.2 545.3,75.1 545.5,75.4 545.6,75.2 545.7,74.3 545.8,74.0 546.0,74.1 546.1,73.3 546.2,75.2 546.3,74.5 546.5,74.8 546.6,75.0 546.7,73.9 546.8,75.4 547.0,74.9 547.1,75.9 547.2,74.7 547.3,75.2 547.5,76.0 547.6,75.9 547.7,76.2 547.8,75.5 548.0,75.6 548.1,75.6 548.2,75.9 548.3,74.8 548.5,75.3 548.6,75.3 548.7,75.6 548.9,76.2 549.0,75.1 549.1,74.2 549.2,74.5 549.4,75.2 549.5,76.3 549.6,76.2 549.7,76.0 549.9,75.3 550.0,75.8 550.1,75.9 550.2,75.3 550.4,75.2 550.5,76.4 550.6,76.4 550.7,75.4 550.9,75.4 551.0,76.2 551.1,75.6 551.2,77.0 551.4,76.5 551.5,75.7 551.6,76.6 551.7,75.6 551.9,76.3 552.0,75.0 552.1,76.5 552.2,75.7 552.4,75.9 552.5,76.8 552.6,77.5 552.7,75.8 552.9,76.7 553.0,75.9 553.1,74.5 553.2,77.3 553.4,75.9 553.5,76.8 553.6,76.7 553.7,77.2 553.9,76.5 554.0,75.1 554.1,75.2 554.2,76.5 554.4,76.6 554.5,76.9 554.6,76.5 554.7,76.7 554.9,76.2 555.0,77.2 555.1,75.6 555.2,76.4 555.4,76.4 555.5,76.5 555.6,77.4 555.7,75.8 555.9,76.5 556.0,75.5 556.1,76.3 556.2,75.8 556.4,76.1 556.5,76.6 556.6,76.4 556.7,76.7 556.9,77.8 557.0,77.3 557.1,76.3 557.2,77.3 557.4,77.7 557.5,77.4 557.6,76.7 557.7,78.0 557.9,77.3 558.0,77.1 558.1,77.2 558.2,77.8 558.4,79.0 558.5,77.6 558.6,76.2 558.7,76.1 558.9,77.6 559.0,76.1 559.1,76.6 559.2,77.3 559.4,78.0 559.5,77.6 559.6,77.7 559.7,77.3 559.9,78.4 560.0,78.4 560.1,77.7 560.2,77.9 560.4,77.2 560.5,78.1 560.6,76.9 560.7,76.7 560.9,78.4 561.0,77.3 561.1,76.6 561.2,77.7 561.4,77.0 561.5,77.9 561.6,77.7 561.7,78.0 561.9,78.1 562.0,76.7 562.1,78.3 562.2,79.1 562.4,78.3 562.5,77.5 562.6,78.5 562.7,77.2 562.9,77.3 563.0,77.9 563.1,78.2 563.2,78.4 563.4,78.6 563.5,76.8 563.6,77.6 563.7,78.4 563.9,78.0 564.0,77.9 564.1,77.1 564.2,77.6 564.4,78.3 564.5,78.9 564.6,79.5 564.7,78.3 564.9,77.1 565.0,78.2 565.1,78.2 565.2,78.9 565.4,78.8 565.5,79.6 565.6,79.3 565.7,77.3 565.9,78.5 566.0,77.9 566.1,79.0 566.2,78.0 566.4,78.4 566.5,79.6 566.6,80.4 566.7,80.2 566.9,78.8 567.0,78.4 567.1,79.2 567.2,79.2 567.4,78.3 567.5,79.1 567.6,79.7 567.7,78.8 567.9,78.3 568.0,80.5 568.1,79.3 568.2,79.6 568.4,79.9 568.5,78.3 568.6,78.9 568.7,77.8 568.9,78.9 569.0,79.7 569.1,79.7 569.2,79.0 569.4,79.5 569.5,79.7 569.6,79.6 569.7,79.7 569.9,79.0 570.0,80.3 570.1,79.9 570.2,79.8 570.4,79.0 570.5,79.5 570.6,78.7 570.7,79.8 570.9,79.6 571.0,80.0 571.1,79.7 571.2,79.7 571.4,80.0 571.5,80.3 571.6,80.1 571.7,78.9 571.9,80.2 572.0,80.6 572.1,80.6 572.2,79.9 572.4,80.7 572.5,80.4 572.6,80.5 572.7,79.7 572.9,80.3 573.0,79.7 573.1,79.6 573.2,80.2 573.4,80.8 573.5,80.6 573.6,79.3 573.7,79.5 573.9,81.3 574.0,80.3 574.1,81.0 574.2,79.1 574.4,80.5 574.5,81.6 574.6,81.2 574.7,81.5 574.9,81.4 575.0,80.7 575.1,81.3 575.2,80.1 575.4,81.6 575.5,80.5 575.6,81.9 575.7,80.9 575.9,80.3 576.0,81.0 576.1,80.1 576.2,80.6 576.4,79.4 576.5,80.4 576.6,81.1 576.7,81.0 576.9,80.1 577.0,79.3 577.1,80.1 577.2,81.6 577.4,81.0 577.5,81.7 577.6,81.3 577.7,80.4 577.9,82.0 578.0,81.1 578.1,79.0 578.2,80.7 578.4,80.4 578.5,80.8 578.6,80.5 578.7,78.6 578.9,81.4 579.0,80.8 579.1,81.1 579.2,79.2 579.4,82.7 579.5,80.8 579.6,78.5 579.7,79.5 579.9,80.1 580.0,80.5 580.1,81.3 580.2,79.9 580.4,79.8 580.5,79.9 580.6,79.8 580.7,80.8 580.9,80.4 581.0,81.4 581.1,80.9 581.2,80.7 581.4,82.0 581.5,80.1 581.6,80.7 581.7,80.9 581.9,81.3 582.0,80.1 582.1,80.9 582.2,79.6 582.4,80.5 582.5,80.5 582.6,80.2 582.7,79.4 582.9,80.4 583.0,80.1 583.1,80.4 583.2,81.0 583.4,79.5 583.5,80.6 583.6,79.6 583.7,79.8 583.9,80.5 584.0,79.1 584.1,80.6 584.2,81.6 584.4,80.2 584.5,80.3 584.6,80.2 584.7,80.7 584.9,80.3 585.0,80.2 585.1,79.9 585.2,79.6 585.4,79.7 585.5,80.5 585.6,80.4 585.7,79.0 585.9,79.9 586.0,79.4 586.1,81.6 586.2,81.4 586.4,79.4 586.5,80.0 586.6,81.3 586.7,79.4 586.9,80.3 587.0,79.1 587.1,79.9 587.2,79.5 587.4,79.7 587.5,80.3 587.6,80.5 587.7,78.7 587.9,80.4 588.0,80.5 588.1,80.0 588.2,79.7 588.4,80.6 588.5,78.9 588.6,80.8 588.8,82.1 588.9,80.7 589.0,81.1 589.1,81.0 589.3,79.4 589.4,80.4 589.5,80.2 589.6,80.9 589.8,80.1 589.9,80.4 590.0,80.2 590.1,78.1 590.3,79.8 590.4,80.5 590.5,79.6 590.6,79.4 590.8,79.2 590.9,79.6 591.0,80.2 591.1,80.8 591.3,79.9 591.4,79.8 591.5,80.8 591.6,79.8 591.8,79.3 591.9,79.8 592.0,80.0 592.1,79.6 592.3,79.8 592.4,79.3 592.5,78.9 592.6,79.0 592.8,80.4 592.9,79.6 593.0,80.7 593.1,79.5 593.3,79.7 593.4,79.2 593.5,79.7 593.6,79.2 593.8,79.2 593.9,77.8 594.0,79.0 594.1,79.5 594.3,79.0 594.4,77.8 594.5,78.8 594.6,80.4 594.8,80.1 594.9,78.7 595.0,79.0 595.1,79.1 595.3,78.5 595.4,78.6 595.5,78.6 595.6,79.2 595.8,79.2 595.9,78.4 596.0,78.0 596.1,79.1 596.3,78.5 596.4,79.5 596.5,79.1 596.6,79.3 596.8,78.1 596.9,77.7 597.0,78.3 597.1,78.3 597.3,77.9 597.4,77.0 597.5,78.4 597.6,79.1 597.8,78.8 597.9,80.0 598.0,78.8 598.1,77.9 598.3,77.8 598.4,78.5 598.5,78.9 598.6,78.7 598.8,79.7 598.9,77.6 599.0,78.0 599.1,78.4 599.3,76.9 599.4,77.8 599.5,79.1 599.6,77.6 599.8,78.2 599.9,79.1 600.0,77.0 600.1,77.9 600.3,78.2 600.4,76.7 600.5,78.1 600.6,77.5 600.8,78.5 600.9,79.4 601.0,79.2 601.1,77.3 601.3,78.7 601.4,76.1 601.5,79.9 601.6,77.7 601.8,79.1 601.9,77.7 602.0,78.1 602.1,78.6 602.3,77.2 602.4,76.8 602.5,76.6 602.6,76.5 602.8,77.0 602.9,77.3 603.0,76.5 603.1,77.4 603.3,77.2 603.4,78.1 603.5,76.2 603.6,76.0 603.8,76.4 603.9,77.0 604.0,75.3 604.1,75.5 604.3,74.6 604.4,75.4 604.5,74.7 604.6,75.4 604.8,75.2 604.9,75.1 605.0,75.0 605.1,75.1 605.3,74.1 605.4,73.4 605.5,74.3 605.6,73.1 605.8,73.5 605.9,73.6 606.0,72.7 606.1,73.6 606.3,74.5 606.4,72.2 606.5,73.0 606.6,72.8 606.8,71.6 606.9,72.5 607.0,70.7 607.1,72.6 607.3,71.0 607.4,70.2 607.5,69.6 607.6,69.9 607.8,70.2 607.9,70.1 608.0,69.7 608.1,68.3 608.3,68.5 608.4,67.8 608.5,66.9 608.6,68.5 608.8,67.5 608.9,66.4 609.0,66.2 609.1,65.5 609.3,65.0 609.4,65.8 609.5,63.6 609.6,63.6 609.8,63.4 609.9,61.5 610.0,61.7 610.1,59.6 610.3,59.0 610.4,58.5 610.5,58.3 610.6,57.5 610.8,57.5 610.8,56.8 610.9,57.2 611.0,57.1 611.1,57.6 611.3,58.6 611.4,60.2 611.5,59.5 611.6,60.3 611.8,62.0 611.9,64.0 612.0,64.1 612.1,64.2 612.3,63.8 612.4,65.9 612.5,65.0 612.6,66.2 612.8,66.5 612.9,68.1 613.0,67.6 613.1,68.0 613.3,68.9 613.4,68.7 613.5,69.8 613.6,70.0 613.8,70.1 613.9,70.2 614.0,69.8 614.1,70.1 614.3,72.0 614.4,73.4 614.5,71.5 614.6,72.5 614.8,73.0 614.9,72.2 615.0,72.4 615.1,73.6 615.3,72.4 615.4,73.7 615.5,74.2 615.6,73.3 615.8,75.8 615.9,71.9 616.0,73.7 616.1,74.3 616.3,73.8 616.4,74.4 616.5,74.8 616.6,74.9 616.8,76.3 616.9,75.1 617.0,75.7 617.1,76.7 617.3,76.2 617.4,75.5 617.5,75.9 617.6,76.8 617.8,75.1 617.9,76.6 618.0,77.3 618.1,77.0 618.3,76.1 618.4,76.1 618.5,77.4 618.6,77.8 618.8,77.9 618.9,78.2 619.0,78.8 619.1,77.6 619.3,76.5 619.4,77.7 619.5,78.5 619.6,78.1 619.8,78.4 619.9,79.0 620.0,77.7 620.1,78.6 620.3,80.4 620.4,78.7 620.5,79.0 620.6,79.7 620.8,78.3 620.9,79.1 621.0,80.1 621.1,79.4 621.3,79.2 621.4,80.0 621.5,80.0 621.6,80.1 621.8,78.4 621.9,80.9 622.0,80.6 622.1,80.6 622.3,80.5 622.4,81.9 622.5,80.4 622.6,80.7 622.8,81.0 622.9,80.7 623.0,82.4 623.1,81.3 623.3,80.5 623.4,81.4 623.5,81.6 623.6,81.3 623.8,80.6 623.9,80.2 624.0,81.2 624.1,82.0 624.3,82.4 624.4,80.9 624.5,81.6 624.6,82.4 624.8,81.4 624.9,81.5 625.0,81.1 625.1,80.7 625.3,82.9 625.4,81.9 625.5,82.5 625.6,81.5 625.8,81.2 625.9,80.4 626.0,82.5 626.1,82.5 626.3,82.6 626.4,83.3 626.5,83.4 626.6,83.3 626.8,87.2 626.9,87.0 627.0,85.4 627.1,86.3 627.3,86.7 627.4,86.9 627.5,86.9 627.6,86.0 627.8,86.9 627.9,87.1 628.0,87.4 628.1,85.5 628.3,86.4 628.4,87.8 628.5,86.4 628.7,87.5 628.8,87.0 628.9,86.7 629.0,86.0 629.2,85.2 629.3,83.4 629.4,85.1 629.5,83.4 629.7,82.1 629.8,81.4 629.9,81.1 630.0,88.2 630.2,92.0 630.3,90.8 630.4,94.7 630.5,97.8 630.7,102.0 630.8,104.2 630.9,104.6 631.0,118.5 631.2,105.5 631.3,112.5 631.4,121.1 631.5,114.8 631.7,115.5 631.8,116.2 631.9,116.1 632.0,115.1 632.2,118.5 632.3,120.0 632.4,131.8 632.5,119.4 632.7,119.8 632.8,116.3 632.9,118.7 633.0,117.5 633.2,120.3 633.3,116.5 633.4,116.2 633.5,117.9 633.7,113.5 633.8,127.8 633.9,132.2 634.0,108.3 634.2,110.3 634.3,111.2 634.4,109.8 634.5,117.8 634.7,119.5 634.8,106.1 634.9,106.6 635.0,108.3 635.2,108.9 635.3,108.1 635.4,105.4 635.5,104.4 635.7,103.9 635.8,97.4 635.9,104.2 636.0,101.5 636.2,99.7 636.3,103.0 636.4,107.3 636.5,101.4 636.7,101.3 636.8,99.9 636.9,103.6 637.0,101.8 637.2,98.4 637.3,104.4 637.4,100.7 637.5,105.3 637.7,100.5 637.8,116.5 637.9,101.9 638.0,100.3 638.2,101.0 638.3,100.7 638.4,101.5 638.5,101.4 638.7,99.5 638.8,101.8 638.9,108.6 639.0,100.0 639.2,112.6 639.3,102.0 639.4,96.3 639.5,102.3 639.7,99.3 639.8,100.2 639.9,95.3 640.0,94.1 640.2,101.1 640.3,98.1 640.4,95.1 640.5,103.7 640.7,97.5 640.8,95.1 640.9,116.9 641.0,99.6 641.2,96.3 641.3,98.3 641.4,99.5 641.5,98.8 641.7,100.6 641.8,98.2 641.9,97.3 642.0,95.7 642.2,97.2 642.3,100.3 642.4,98.5 642.5,99.6 642.7,98.4 642.8,93.9 642.9,97.1 643.0,98.9 643.2,94.9 643.3,98.7 643.4,95.8 643.5,95.1 643.7,96.4 643.8,97.3 643.9,95.7 644.0,94.0 644.2,96.2 644.3,91.6 644.4,96.0 644.5,98.2 644.7,94.4 644.8,96.9 644.9,96.4 645.0,92.8 645.2,93.6 645.3,98.8 645.4,97.0 645.5,98.2 645.7,92.4 645.8,100.2 645.9,95.8 646.0,93.0 646.2,100.1 646.3,96.1 646.4,99.1 646.5,98.3 646.7,94.6 646.8,97.9 646.9,96.6 647.0,93.0 647.2,99.4 647.3,91.0 647.4,93.5 647.5,97.3 647.7,96.9 647.8,94.0 647.9,95.0 648.0,96.8 648.2,94.0 648.3,92.9 648.4,94.7 648.5,95.5 648.7,94.6 648.8,94.0 648.9,96.8 649.0,94.1 649.2,95.9 649.3,93.5 649.4,93.9 649.5,93.0 649.7,89.6 649.8,90.4 649.9,96.3 650.0,93.5 650.2,92.2 650.3,94.2 650.4,97.0 650.5,87.7 650.7,90.8 650.8,93.5 650.9,92.9 651.0,94.9 651.2,92.4 651.3,88.5 651.4,89.4 651.5,91.3 651.7,93.0 651.8,94.3 651.9,91.7 652.0,92.9 652.2,93.3 652.3,93.5 652.4,90.0 652.5,94.8 652.7,91.7 652.8,96.9 652.9,95.3 653.0,87.1 653.2,94.2 653.3,91.0 653.4,93.4 653.5,91.7 653.7,89.0 653.8,93.8 653.9,94.3 654.0,96.1 654.2,85.4 654.3,91.7 654.4,91.0 654.5,90.0 654.7,90.5 654.8,91.9 654.9,96.0 655.0,89.5 655.2,90.8 655.3,91.0 655.4,86.8 655.5,89.5 655.7,92.2 655.8,85.8 655.9,87.1 656.0,87.1 656.2,91.6 656.3,94.9 656.4,90.1 656.5,90.4 656.7,93.6 656.8,91.0 656.9,87.6 657.0,91.7 657.2,92.4 657.3,91.4 657.4,91.5 657.5,88.7 657.7,90.6 657.8,89.4 657.9,84.0 658.0,84.9 658.2,91.9 658.3,87.5 658.4,94.1 658.5,88.6 658.7,92.9 658.8,86.4 658.9,88.1 659.0,87.4 659.2,93.8 659.3,88.9 659.4,89.5 659.5,90.0 659.7,92.5 659.8,83.7 659.9,94.2 660.0,93.0 660.2,88.2 660.3,91.3 660.4,92.6 660.5,91.7 660.7,86.7 660.8,84.4 660.9,87.0 661.0,89.8 661.2,93.4 661.3,90.6 661.4,88.5 661.5,92.3 661.7,87.6 661.8,89.7 661.9,88.9 662.0,85.9 662.2,88.3 662.3,88.2 662.4,86.4 662.5,87.6 662.7,85.5 662.8,89.8 662.9,93.0 663.0,88.0 663.2,88.1 663.3,85.3 663.4,90.0 663.5,87.8 663.7,90.7 663.8,88.6 663.9,85.4 664.0,83.8 664.2,85.4 664.3,83.4 664.4,85.6 664.5,83.6 664.7,88.6 664.8,90.1 664.9,89.3 665.0,82.0 665.2,87.4 665.3,83.5 665.4,86.3 665.5,82.7 665.7,85.7 665.8,89.1 665.9,89.6 666.0,87.5 666.2,87.2 666.3,80.9 666.4,85.3 666.5,90.5 666.7,90.4 666.8,89.2 666.9,87.8 667.0,84.0 667.2,92.5 667.3,90.0 667.4,83.6 667.5,85.0 667.7,84.4 667.8,85.6 667.9,82.4 668.0,81.9 668.2,84.4 668.3,84.8" fill="none" stroke="#ee7f33" stroke-width="1.15" stroke-linejoin="round" />
<polyline points="484.9,85.2 485.1,87.0 485.2,87.5 485.3,89.4 485.4,88.0 485.6,90.5 485.7,90.1 485.8,88.3 485.9,90.8 486.1,87.7 486.2,89.4 486.3,90.7 486.4,89.6 486.6,87.7 486.7,89.3 486.8,88.2 486.9,90.7 487.1,92.3 487.2,89.7 487.3,90.2 487.4,87.5 487.6,88.3 487.7,89.4 487.8,91.1 487.9,86.6 488.1,90.0 488.2,93.7 488.3,94.0 488.4,93.0 488.6,90.8 488.7,91.5 488.8,88.6 488.9,88.5 489.1,87.8 489.2,96.4 489.3,91.1 489.4,92.5 489.6,94.0 489.7,92.7 489.8,92.5 489.9,92.3 490.1,89.3 490.2,92.3 490.3,92.6 490.4,86.3 490.6,92.7 490.7,91.7 490.8,93.0 490.9,93.7 491.1,92.1 491.2,90.8 491.3,94.0 491.4,93.8 491.6,95.0 491.7,96.7 491.8,88.6 491.9,93.3 492.1,91.7 492.2,93.9 492.3,92.9 492.4,94.1 492.6,94.1 492.7,93.9 492.8,89.5 492.9,90.7 493.1,91.5 493.2,91.5 493.3,94.0 493.4,94.0 493.6,93.9 493.7,94.9 493.8,91.4 493.9,96.8 494.1,96.7 494.2,94.5 494.3,91.5 494.4,94.2 494.6,92.4 494.7,94.3 494.8,92.3 494.9,96.6 495.1,92.8 495.2,93.2 495.3,96.1 495.4,97.4 495.6,95.4 495.7,98.5 495.8,98.1 495.9,94.8 496.1,96.5 496.2,94.6 496.3,95.0 496.4,97.8 496.6,96.4 496.7,98.7 496.8,96.8 496.9,96.9 497.1,93.8 497.2,98.8 497.3,98.6 497.4,98.2 497.6,101.9 497.7,101.4 497.8,97.5 497.9,109.5 498.1,101.5 498.2,96.2 498.3,95.9 498.4,115.4 498.6,97.5 498.7,99.5 498.8,101.7 498.9,106.0 499.1,92.9 499.2,90.1 499.3,100.4 499.4,99.6 499.6,104.4 499.7,98.1 499.8,96.2 499.9,97.8 500.1,104.3 500.2,104.0 500.3,95.9 500.4,98.6 500.6,98.9 500.7,103.2 500.8,95.3 500.9,100.5 501.1,94.7 501.2,102.9 501.3,104.3 501.4,100.7 501.6,102.7 501.7,105.3 501.8,124.7 501.9,127.2 502.1,129.0 502.2,128.1 502.3,127.8 502.4,107.1 502.6,100.4 502.7,100.1 502.8,99.4 502.9,109.1 503.1,107.2 503.2,98.0 503.3,100.1 503.4,106.2 503.6,98.2 503.7,108.3 503.8,95.2 503.9,99.3 504.1,102.8 504.2,97.5 504.3,101.3 504.4,110.2 504.6,102.8 504.7,102.7 504.8,104.0 504.9,101.7 505.1,103.3 505.2,101.2 505.3,102.2 505.4,109.7 505.6,94.8 505.7,99.1 505.8,98.8 505.9,98.0 506.1,97.8 506.2,99.5 506.3,107.9 506.4,106.8 506.6,102.8 506.7,93.8 506.8,102.4 506.9,102.5 507.1,96.0 507.2,109.7 507.3,96.4 507.4,100.0 507.6,122.9 507.7,98.8 507.8,112.9 507.9,103.2 508.1,108.2 508.2,107.4 508.3,104.1 508.4,103.5 508.6,97.2 508.7,105.9 508.8,96.2 508.9,102.9 509.1,114.7 509.2,99.5 509.3,95.6 509.4,97.1 509.6,101.9 509.7,97.4 509.8,95.5 509.9,111.2 510.1,105.2 510.2,105.1 510.3,104.1 510.4,102.6 510.6,118.4 510.7,104.2 510.8,98.3 510.9,105.5 511.1,107.1 511.2,103.3 511.3,101.1 511.4,99.2 511.6,98.1 511.7,102.4 511.8,103.8 511.9,100.6 512.1,100.9 512.2,98.0 512.3,96.9 512.4,98.9 512.6,106.0 512.7,104.7 512.8,102.6 512.9,96.9 513.1,101.9 513.2,106.8 513.3,108.1 513.4,103.5 513.6,107.5 513.7,98.6 513.8,90.2 513.9,104.7 514.1,104.3 514.2,117.1 514.3,102.5 514.4,107.0 514.6,101.7 514.7,107.0 514.8,104.0 514.9,106.0 515.1,102.7 515.2,105.6 515.3,98.9 515.4,97.2 515.6,99.5 515.7,103.1 515.8,115.3 515.9,102.9 516.1,90.1 516.2,101.0 516.3,104.4 516.4,104.9 516.6,109.2 516.7,98.5 516.8,106.6 516.9,100.5 517.1,106.0 517.2,92.3 517.3,109.4 517.4,103.9 517.6,104.9 517.7,101.2 517.8,105.5 517.9,99.8 518.1,104.9 518.2,104.7 518.3,100.6 518.4,90.3 518.6,101.7 518.7,95.0 518.8,101.8 518.9,93.4 519.1,105.4 519.2,100.0 519.3,106.6 519.4,103.1 519.6,113.1 519.7,94.9 519.8,101.7 519.9,100.6 520.1,101.1 520.2,124.0 520.3,103.5 520.4,97.2 520.6,98.2 520.7,105.9 520.8,101.3 520.9,97.6 521.1,97.4 521.2,103.8 521.3,100.5 521.4,104.7 521.6,101.5 521.7,99.0 521.8,100.7 522.0,95.4 522.1,97.9 522.2,101.7 522.3,121.8 522.5,128.7 522.6,126.1 522.7,124.0 522.8,122.1 523.0,96.7 523.1,107.9 523.2,103.2 523.3,101.6 523.5,94.5 523.6,104.3 523.7,101.8 523.8,97.6 524.0,103.2 524.1,108.4 524.2,99.6 524.3,97.4 524.5,97.5 524.6,103.8 524.7,97.1 524.8,101.6 525.0,102.2 525.1,97.7 525.2,96.4 525.3,101.6 525.5,96.2 525.6,108.1 525.7,98.5 525.8,104.9 526.0,101.6 526.1,108.4 526.2,100.9 526.3,99.6 526.5,107.5 526.6,108.5 526.7,102.6 526.8,95.0 527.0,99.8 527.1,100.5 527.2,108.7 527.3,100.0 527.5,107.1 527.6,99.4 527.7,100.7 527.8,107.5 528.0,100.4 528.1,108.5 528.2,97.6 528.3,94.1 528.5,102.5 528.6,104.8 528.7,102.8 528.8,101.8 529.0,96.2 529.1,104.6 529.2,100.5 529.3,99.1 529.5,104.1 529.6,107.0 529.7,99.2 529.8,99.3 530.0,107.8 530.1,107.3 530.2,99.7 530.3,106.2 530.5,99.0 530.6,98.2 530.7,101.3 530.8,95.7 531.0,94.8 531.1,101.6 531.2,100.7 531.3,104.3 531.5,92.1 531.6,100.1 531.7,103.6 531.8,104.8 532.0,98.0 532.1,102.4 532.2,103.3 532.3,106.0 532.5,103.9 532.6,95.2 532.7,103.8 532.8,99.7 533.0,98.1 533.1,95.2 533.2,102.8 533.3,103.8 533.5,100.5 533.6,97.9 533.7,105.2 533.8,104.8 534.0,100.2 534.1,115.0 534.2,98.9 534.3,108.2 534.5,95.8 534.6,102.9 534.7,92.3 534.8,100.5 535.0,90.7 535.1,101.1 535.2,103.2 535.3,102.7 535.5,97.4 535.6,94.6 535.7,96.6 535.8,110.7 536.0,95.8 536.1,95.7 536.2,108.3 536.3,101.9 536.5,101.4 536.6,100.9 536.7,100.9 536.8,104.7 537.0,98.3 537.1,96.8 537.2,95.6 537.3,109.2 537.5,95.1 537.6,104.2 537.7,90.8 537.8,106.3 538.0,101.7 538.1,103.5 538.2,94.5 538.3,101.1 538.5,101.9 538.6,101.1 538.7,97.7 538.8,95.2 539.0,99.3 539.1,99.9 539.2,102.4 539.3,94.4 539.5,96.2 539.6,97.8 539.7,98.7 539.8,103.2 540.0,99.4 540.1,98.5 540.2,104.3 540.3,103.4 540.5,100.0 540.6,91.9 540.7,98.0 540.8,105.2 541.0,94.3 541.1,95.7 541.2,97.5 541.3,100.4 541.5,99.3 541.6,93.8 541.7,96.3 541.8,87.9 542.0,103.2 542.1,102.5 542.2,99.7 542.3,100.8 542.5,100.2 542.6,96.8 542.7,95.3 542.8,101.8 543.0,97.0 543.1,96.3 543.2,97.7 543.3,95.0 543.5,95.4 543.6,100.0 543.7,97.7 543.8,97.3 544.0,100.8 544.1,98.4 544.2,95.4 544.3,96.8 544.5,97.6 544.6,91.4 544.7,96.1 544.8,95.2 545.0,99.5 545.1,94.5 545.2,98.4 545.3,97.7 545.5,98.2 545.6,100.2 545.7,95.7 545.8,100.0 546.0,95.0 546.1,96.6 546.2,91.5 546.3,93.7 546.5,91.6 546.6,97.0 546.7,92.9 546.8,92.4 547.0,93.5 547.1,94.3 547.2,95.4 547.3,101.7 547.5,92.6 547.6,96.8 547.7,96.2 547.8,92.7 548.0,99.9 548.1,95.2 548.2,91.7 548.3,93.2 548.5,93.7 548.6,94.9 548.7,92.5 548.8,96.6 549.0,94.1 549.1,90.8 549.2,94.8 549.3,92.8 549.5,93.3 549.6,95.3 549.7,97.0 549.8,94.2 550.0,93.9 550.1,94.4 550.2,91.9 550.3,90.9 550.5,90.1 550.6,90.6 550.7,94.2 550.8,87.9 551.0,90.3 551.1,89.2 551.2,94.0 551.3,88.2 551.5,85.1 551.6,89.3 551.7,87.7 551.8,91.7 552.0,89.8 552.1,90.2 552.2,88.3 552.3,89.4 552.5,89.0 552.6,91.7 552.7,92.2 552.8,89.2 553.0,83.0 553.1,91.3 553.2,87.5 553.3,85.4 553.5,88.8 553.6,89.3 553.7,87.9 553.8,88.0 554.0,88.3 554.1,86.7 554.2,87.0 554.3,87.2 554.5,87.9 554.6,86.1 554.7,86.0 554.8,86.0 555.0,85.3 555.1,86.7 555.2,86.4 555.3,85.1 555.5,85.1 555.6,85.2 555.7,85.2 555.8,84.1 556.0,84.3 556.1,83.6 556.2,84.6 556.3,83.6 556.5,83.1 556.6,82.4 556.7,83.8 556.8,82.5 557.0,82.5 557.1,81.7 557.2,81.5 557.3,80.8 557.5,80.2 557.6,80.1 557.7,79.8 557.8,78.8 558.0,78.0 558.1,78.3 558.2,78.3 558.4,76.2 558.5,76.1 558.6,74.7 558.7,75.6 558.9,74.8 559.0,73.8 559.1,72.9 559.2,72.7 559.4,70.1 559.5,70.2 559.6,69.4 559.7,65.9 559.9,64.2 560.0,60.4 560.1,57.5 560.2,54.7 560.2,55.1 560.4,57.2 560.5,60.5 560.6,62.1 560.7,65.4 560.9,68.1 561.0,68.4 561.1,70.5 561.2,72.9 561.4,73.9 561.5,74.7 561.6,75.0 561.7,75.4 561.9,76.5 562.0,77.1 562.1,78.0 562.2,77.9 562.4,78.1 562.5,79.7 562.6,78.8 562.7,80.5 562.9,80.6 563.0,79.9 563.1,80.9 563.2,81.6 563.4,83.2 563.5,82.3 563.6,83.0 563.7,83.2 563.9,82.7 564.0,84.0 564.1,82.9 564.2,84.3 564.4,84.5 564.5,84.7 564.6,84.6 564.7,84.0 564.9,84.8 565.0,85.6 565.1,85.5 565.2,84.3 565.4,84.6 565.5,85.3 565.6,84.8 565.7,84.5 565.9,84.1 566.0,84.8 566.1,84.0 566.2,84.8 566.4,84.3 566.5,83.9 566.6,82.9 566.7,83.8 566.9,82.7 567.0,83.6 567.1,83.2 567.2,84.3 567.4,85.6 567.5,86.1 567.6,85.4 567.7,84.5 567.9,86.1 568.0,86.8 568.1,85.5 568.2,88.4 568.4,88.9 568.5,88.0 568.6,88.0 568.7,90.9 568.9,91.9 569.0,86.3 569.1,92.8 569.2,93.2 569.4,91.7 569.5,91.9 569.6,91.1 569.7,88.2 569.9,89.0 570.0,92.5 570.1,92.2 570.2,90.3 570.4,93.1 570.5,92.6 570.6,95.8 570.7,92.2 570.9,93.5 571.0,97.0 571.1,93.0 571.2,88.2 571.4,92.9 571.5,95.8 571.6,90.8 571.7,93.2 571.9,93.7 572.0,90.6 572.1,92.1 572.2,89.4 572.4,96.5 572.5,95.8 572.6,94.9 572.7,94.2 572.9,97.6 573.0,94.0 573.1,98.1 573.2,96.0 573.4,95.3 573.5,94.0 573.6,93.8 573.7,96.5 573.9,93.8 574.0,93.9 574.1,94.8 574.2,94.5 574.4,95.8 574.5,90.1 574.6,91.2 574.7,93.9 574.9,91.3 575.0,96.7 575.1,95.8 575.2,95.4 575.4,93.5 575.5,95.4 575.6,96.9 575.7,98.4 575.9,97.5 576.0,92.5 576.1,93.7 576.2,98.4 576.4,90.4 576.5,96.2 576.6,96.2 576.7,95.5 576.9,95.1 577.0,96.1 577.1,95.3 577.2,93.4 577.4,93.1 577.5,97.1 577.6,95.8 577.7,97.3 577.9,96.6 578.0,95.8 578.1,96.4 578.2,94.2 578.4,98.0 578.5,94.8 578.6,94.0 578.7,96.6 578.9,96.7 579.0,94.5 579.1,96.9 579.2,96.8 579.4,95.6 579.5,102.2 579.6,94.5 579.7,95.6 579.9,94.8 580.0,99.7 580.1,97.4 580.2,95.3 580.4,95.1 580.5,97.9 580.6,97.7 580.7,92.8 580.9,96.0 581.0,93.7 581.1,100.0 581.2,95.7 581.4,98.2 581.5,98.1 581.6,93.8 581.7,99.5 581.9,99.3 582.0,98.8 582.1,97.7 582.2,97.1 582.4,96.2 582.5,94.2 582.6,96.1 582.7,93.0 582.9,94.8 583.0,96.1 583.1,97.8 583.2,94.1 583.4,98.3 583.5,95.2 583.6,97.6 583.7,99.1 583.9,96.1 584.0,96.1 584.1,97.1 584.2,95.2 584.4,97.6 584.5,99.8 584.6,97.8 584.7,93.5 584.9,100.5 585.0,102.6 585.1,98.2 585.2,100.7 585.4,95.0 585.5,97.9 585.6,100.7 585.7,98.6 585.9,100.8 586.0,97.3 586.1,96.3 586.2,95.7 586.4,96.1 586.5,98.7 586.6,95.9 586.7,97.6 586.9,102.0 587.0,95.6 587.1,101.1 587.2,100.4 587.4,102.8 587.5,101.1 587.6,104.3 587.7,102.2 587.9,101.3 588.0,102.2 588.1,100.3 588.2,97.4 588.4,100.2 588.5,98.4 588.6,96.8 588.7,101.0 588.9,96.0 589.0,99.7 589.1,99.8 589.2,98.9 589.4,96.5 589.5,102.8 589.6,97.6 589.7,101.1 589.9,99.7 590.0,102.5 590.1,106.2 590.2,97.2 590.4,98.3 590.5,102.8 590.6,102.5 590.7,103.2 590.9,100.4 591.0,95.4 591.1,100.8 591.2,104.6 591.4,98.7 591.5,102.8 591.6,104.5 591.7,99.7 591.9,100.7 592.0,100.3 592.1,99.0 592.2,98.5 592.4,106.0 592.5,100.5 592.6,98.2 592.7,98.0 592.9,103.6 593.0,105.6 593.1,103.9 593.2,100.3 593.4,101.8 593.5,99.3 593.6,101.8 593.7,104.5 593.9,104.2 594.0,102.1 594.1,99.5 594.2,98.0 594.4,104.1 594.5,100.6 594.6,101.9 594.7,104.6 594.9,104.7 595.0,96.4 595.1,103.4 595.3,102.3 595.4,100.4 595.5,100.8 595.6,99.7 595.8,105.0 595.9,103.5 596.0,101.4 596.1,101.1 596.3,104.9 596.4,108.3 596.5,99.5 596.6,99.6 596.8,99.3 596.9,103.0 597.0,108.9 597.1,104.1 597.3,95.7 597.4,101.8 597.5,102.0 597.6,108.6 597.8,105.2 597.9,99.6 598.0,101.9 598.1,103.6 598.3,98.8 598.4,100.8 598.5,101.4 598.6,103.9 598.8,101.9 598.9,99.8 599.0,102.4 599.1,107.9 599.3,104.2 599.4,104.6 599.5,102.2 599.6,99.3 599.8,104.0 599.9,105.3 600.0,101.3 600.1,102.2 600.3,106.6 600.4,102.3 600.5,103.2 600.6,102.7 600.8,109.2 600.9,110.8 601.0,109.1 601.1,109.8 601.3,100.6 601.4,100.5 601.5,108.4 601.6,98.9 601.8,107.9 601.9,106.8 602.0,96.5 602.1,108.5 602.3,101.6 602.4,101.2 602.5,100.2 602.6,101.8 602.8,103.2 602.9,98.7 603.0,104.4 603.1,103.8 603.3,102.7 603.4,105.3 603.5,104.6 603.6,99.9 603.8,98.5 603.9,102.0 604.0,104.5 604.1,105.9 604.3,105.5 604.4,105.5 604.5,105.7 604.6,104.5 604.8,105.0 604.9,100.5 605.0,109.1 605.1,105.7 605.3,101.4 605.4,105.7 605.5,105.7 605.6,102.4 605.8,104.6 605.9,107.7 606.0,103.8 606.1,102.1 606.3,110.2 606.4,101.2 606.5,110.3 606.6,101.9 606.8,108.9 606.9,103.6 607.0,104.5 607.1,100.8 607.3,104.7 607.4,105.9 607.5,107.0 607.6,103.7 607.8,105.3 607.9,101.4 608.0,103.0 608.1,100.2 608.3,102.0 608.4,103.9 608.5,104.7 608.6,102.3 608.8,101.9 608.9,109.2 609.0,103.1 609.1,105.8 609.3,103.4 609.4,101.8 609.5,111.2 609.6,105.0 609.8,101.1 609.9,110.6 610.0,103.8 610.1,104.6 610.3,106.6 610.4,101.5 610.5,101.4 610.6,104.6 610.8,99.8 610.9,99.6 611.0,104.0 611.1,101.8 611.3,101.7 611.4,98.7 611.5,101.9 611.6,102.3 611.8,104.3 611.9,102.2 612.0,99.3 612.1,105.0 612.3,105.1 612.4,108.1 612.5,95.9 612.6,106.1 612.8,106.5 612.9,106.8 613.0,100.7 613.1,103.6 613.3,111.9 613.4,104.3 613.5,98.5 613.6,105.0 613.8,104.5 613.9,94.9 614.0,105.7 614.1,105.6 614.3,102.7 614.4,96.5 614.5,103.4 614.6,110.5 614.8,105.4 614.9,105.7 615.0,102.3 615.1,106.2 615.3,104.5 615.4,109.4 615.5,109.4 615.6,104.8 615.8,99.3 615.9,108.4 616.0,110.5 616.1,100.9 616.3,103.7 616.4,102.3 616.5,105.6 616.6,104.2 616.8,105.4 616.9,105.1 617.0,98.9 617.1,106.5 617.3,106.5 617.4,105.1 617.5,105.8 617.6,99.3 617.8,105.7 617.9,103.8 618.0,109.4 618.1,103.3 618.3,102.9 618.4,102.9 618.5,110.8 618.6,107.4 618.8,114.3 618.9,99.4 619.0,105.6 619.1,99.6 619.3,98.6 619.4,101.7 619.5,107.5 619.6,106.0 619.8,102.6 619.9,112.1 620.0,100.5 620.1,100.2 620.3,102.3 620.4,106.3 620.5,104.1 620.6,110.9 620.8,108.7 620.9,106.9 621.0,108.0 621.1,99.6 621.3,103.8 621.4,113.8 621.5,101.5 621.6,103.7 621.8,106.3 621.9,108.0 622.0,98.3 622.1,104.7 622.3,104.6 622.4,111.1 622.5,107.5 622.6,102.4 622.8,105.1 622.9,107.1 623.0,106.6 623.1,111.1 623.3,114.1 623.4,103.7 623.5,110.7 623.6,111.1 623.8,104.5 623.9,102.4 624.0,106.9 624.1,101.8 624.3,105.5 624.4,116.6 624.5,100.0 624.6,109.5 624.8,100.2 624.9,106.7 625.0,106.0 625.1,107.4 625.3,109.3 625.4,103.7 625.5,100.0 625.6,101.3 625.8,107.7 625.9,104.1 626.0,102.2 626.1,103.8 626.3,110.4 626.4,98.7 626.5,108.4 626.6,108.8 626.8,105.4 626.9,105.1 627.0,107.8 627.1,110.5 627.3,110.2 627.4,105.9 627.5,112.5 627.6,102.0 627.8,103.7 627.9,105.2 628.0,105.3 628.1,109.0 628.3,108.0 628.4,102.9 628.5,107.8 628.6,100.5 628.8,102.5 628.9,103.7 629.0,106.9 629.1,109.3 629.3,106.6 629.4,109.5 629.5,107.4 629.6,107.4 629.8,108.1 629.9,102.2 630.0,109.3 630.1,108.8 630.3,102.1 630.4,105.3 630.5,104.5 630.6,108.4 630.8,105.1 630.9,101.6 631.0,106.2 631.1,104.7 631.3,102.0 631.4,104.2 631.5,102.0 631.7,111.4 631.8,100.5 631.9,112.4 632.0,96.3 632.2,108.2 632.3,107.5 632.4,104.9 632.5,110.8 632.7,111.2 632.8,103.6 632.9,106.6 633.0,102.4 633.2,109.1 633.3,111.4 633.4,100.5 633.5,127.2 633.7,110.4 633.8,109.2 633.9,104.3 634.0,108.4 634.2,111.4 634.3,107.3 634.4,103.3 634.5,105.0 634.7,105.7 634.8,105.6 634.9,113.2 635.0,107.7 635.2,125.9 635.3,104.0 635.4,104.2 635.5,105.0 635.7,105.9 635.8,105.0 635.9,108.2 636.0,104.6 636.2,106.8 636.3,99.6 636.4,110.8 636.5,98.6 636.7,110.7 636.8,105.6 636.9,113.7 637.0,116.2 637.2,109.6 637.3,108.5 637.4,112.0 637.5,106.2 637.7,107.7 637.8,130.9 637.9,103.8 638.0,106.0 638.2,101.1 638.3,105.6 638.4,108.5 638.5,105.5 638.7,114.2 638.8,114.4 638.9,108.8 639.0,111.1 639.2,115.1 639.3,100.8 639.4,106.2 639.5,103.2 639.7,113.4 639.8,110.9 639.9,112.6 640.0,105.8 640.2,99.6 640.3,109.3 640.4,112.9 640.5,110.4 640.7,106.0 640.8,106.7 640.9,118.5 641.0,104.1 641.2,108.9 641.3,100.2 641.4,104.5 641.5,105.3 641.7,107.3 641.8,106.9 641.9,107.7 642.0,103.0 642.2,114.9 642.3,112.5 642.4,102.2 642.5,112.4 642.7,107.1 642.8,109.6 642.9,112.1 643.0,109.2 643.2,110.6 643.3,104.0 643.4,109.4 643.5,109.4 643.7,112.1 643.8,103.3 643.9,109.7 644.0,110.0 644.2,110.2 644.3,111.4 644.4,115.0 644.5,108.7 644.7,97.3 644.8,100.9 644.9,110.0 645.0,105.4 645.2,105.4 645.3,113.1 645.4,106.9 645.5,107.0 645.7,106.1 645.8,112.7 645.9,105.7 646.0,109.6 646.2,109.2 646.3,112.7 646.4,110.9 646.5,108.8 646.7,114.5 646.8,108.9 646.9,111.4 647.0,109.4 647.2,100.0 647.3,103.9 647.4,108.0 647.5,112.1 647.7,113.3 647.8,113.6 647.9,103.5 648.0,106.0 648.2,110.2 648.3,101.6 648.4,113.3 648.5,112.4 648.7,109.1 648.8,106.1 648.9,113.6 649.0,114.5 649.2,110.5 649.3,107.6 649.4,111.3 649.5,113.5 649.7,103.5 649.8,115.1 649.9,109.2 650.0,113.3 650.2,108.5 650.3,104.8 650.4,106.2 650.5,107.3 650.7,106.0 650.8,117.0 650.9,112.6 651.0,108.9 651.2,113.5 651.3,107.3 651.4,102.3 651.5,100.4 651.7,105.4 651.8,112.2 651.9,112.0 652.0,114.5 652.2,110.6 652.3,108.2 652.4,116.2 652.5,115.5 652.7,108.3 652.8,115.7 652.9,107.5 653.0,110.7 653.2,104.6 653.3,107.6 653.4,106.8 653.5,110.8 653.7,107.6 653.8,112.4 653.9,111.1 654.0,110.1 654.2,111.1 654.3,105.2 654.4,128.2 654.5,122.4 654.7,110.0 654.8,113.9 654.9,110.5 655.0,112.4 655.2,109.2 655.3,116.1 655.4,113.0 655.5,107.8 655.7,110.6 655.8,112.4 655.9,108.3 656.0,115.6 656.2,111.6 656.3,106.3 656.4,105.9 656.5,108.0 656.7,110.8 656.8,117.3 656.9,102.6 657.0,106.1 657.2,108.3 657.3,118.6 657.4,109.8 657.5,111.5 657.7,115.2 657.8,105.1 657.9,117.7 658.0,105.2 658.2,109.0 658.3,114.3 658.4,106.6 658.5,112.2 658.7,113.2 658.8,112.4 658.9,106.3 659.0,107.0 659.2,110.7 659.3,116.2 659.4,110.1 659.5,120.2 659.7,120.6 659.8,110.0 659.9,103.4 660.0,108.6 660.2,112.2 660.3,118.0 660.4,112.1 660.5,115.0 660.7,115.4 660.8,135.9 660.9,114.6 661.0,110.8 661.2,103.2 661.3,113.1 661.4,131.1 661.5,106.7 661.7,114.4 661.8,119.4 661.9,114.6 662.0,119.5 662.2,108.9 662.3,112.0 662.4,107.3 662.5,106.1 662.7,108.6 662.8,112.8 662.9,101.7 663.0,111.4 663.2,101.9 663.3,120.4 663.4,106.8 663.5,114.1 663.7,107.4 663.8,111.2 663.9,120.3 664.0,103.3 664.2,105.8 664.3,114.5 664.4,112.2 664.5,110.0 664.7,111.7 664.8,112.4 664.9,114.3 665.0,114.6 665.2,111.4 665.3,109.3 665.4,114.0 665.5,107.8 665.7,114.8 665.8,115.0 665.9,108.9 666.0,118.7 666.2,112.8 666.3,113.2 666.4,124.4 666.5,108.2 666.7,117.7 666.8,108.5 666.9,109.1 667.0,105.9 667.2,116.8 667.3,125.2 667.4,117.8 667.5,123.0 667.7,123.2 667.8,113.4 667.9,116.1 668.0,115.9 668.2,117.6 668.3,111.5" fill="none" stroke="#a6a6a6" stroke-width="1.1" stroke-linejoin="round" />
</g>
<line x1="472.70" y1="17.00" x2="668.30" y2="17.00" stroke="#444" stroke-width="1.3" />
<line x1="668.30" y1="17.00" x2="668.30" y2="140.40" stroke="#444" stroke-width="1.3" />
<line x1="472.70" y1="16.40" x2="472.70" y2="141.00" stroke="#222" stroke-width="1.4" />
<line x1="472.10" y1="140.40" x2="668.90" y2="140.40" stroke="#222" stroke-width="1.4" />
<line x1="470.10" y1="140.40" x2="472.70" y2="140.40" stroke="#222" stroke-width="1.1" />
<text x="461.2" y="143.40" font-size="8.3" text-anchor="end" fill="#222">10</text>
<text x="461.4" y="139.60" font-size="5.9" fill="#222">−3</text>
<line x1="470.10" y1="119.83" x2="472.70" y2="119.83" stroke="#222" stroke-width="1.1" />
<text x="461.2" y="122.83" font-size="8.3" text-anchor="end" fill="#222">10</text>
<text x="461.4" y="119.03" font-size="5.9" fill="#222">−2</text>
<line x1="470.10" y1="99.27" x2="472.70" y2="99.27" stroke="#222" stroke-width="1.1" />
<text x="461.2" y="102.27" font-size="8.3" text-anchor="end" fill="#222">10</text>
<text x="461.4" y="98.47" font-size="5.9" fill="#222">−1</text>
<line x1="470.10" y1="78.70" x2="472.70" y2="78.70" stroke="#222" stroke-width="1.1" />
<text x="461.2" y="81.70" font-size="8.3" text-anchor="end" fill="#222">10</text>
<text x="461.4" y="77.90" font-size="5.9" fill="#222">0</text>
<line x1="470.10" y1="58.13" x2="472.70" y2="58.13" stroke="#222" stroke-width="1.1" />
<text x="461.2" y="61.13" font-size="8.3" text-anchor="end" fill="#222">10</text>
<text x="461.4" y="57.33" font-size="5.9" fill="#222">1</text>
<line x1="470.10" y1="37.57" x2="472.70" y2="37.57" stroke="#222" stroke-width="1.1" />
<text x="461.2" y="40.57" font-size="8.3" text-anchor="end" fill="#222">10</text>
<text x="461.4" y="36.77" font-size="5.9" fill="#222">2</text>
<line x1="470.10" y1="17.00" x2="472.70" y2="17.00" stroke="#222" stroke-width="1.1" />
<text x="461.2" y="20.00" font-size="8.3" text-anchor="end" fill="#222">10</text>
<text x="461.4" y="16.20" font-size="5.9" fill="#222">3</text>
<line x1="472.70" y1="140.40" x2="472.70" y2="142.80" stroke="#222" stroke-width="1.1" />
<text x="472.70" y="153.90" font-size="8.2" text-anchor="middle" fill="#222" >0</text>
<line x1="497.15" y1="140.40" x2="497.15" y2="142.80" stroke="#222" stroke-width="1.1" />
<text x="497.15" y="153.90" font-size="8.2" text-anchor="middle" fill="#222" >1000</text>
<line x1="521.60" y1="140.40" x2="521.60" y2="142.80" stroke="#222" stroke-width="1.1" />
<text x="521.60" y="153.90" font-size="8.2" text-anchor="middle" fill="#222" >2000</text>
<line x1="546.05" y1="140.40" x2="546.05" y2="142.80" stroke="#222" stroke-width="1.1" />
<text x="546.05" y="153.90" font-size="8.2" text-anchor="middle" fill="#222" >3000</text>
<line x1="570.50" y1="140.40" x2="570.50" y2="142.80" stroke="#222" stroke-width="1.1" />
<text x="570.50" y="153.90" font-size="8.2" text-anchor="middle" fill="#222" >4000</text>
<line x1="594.95" y1="140.40" x2="594.95" y2="142.80" stroke="#222" stroke-width="1.1" />
<text x="594.95" y="153.90" font-size="8.2" text-anchor="middle" fill="#222" >5000</text>
<line x1="619.40" y1="140.40" x2="619.40" y2="142.80" stroke="#222" stroke-width="1.1" />
<text x="619.40" y="153.90" font-size="8.2" text-anchor="middle" fill="#222" >6000</text>
<line x1="643.85" y1="140.40" x2="643.85" y2="142.80" stroke="#222" stroke-width="1.1" />
<text x="643.85" y="153.90" font-size="8.2" text-anchor="middle" fill="#222" >7000</text>
<line x1="668.30" y1="140.40" x2="668.30" y2="142.80" stroke="#222" stroke-width="1.1" />
<text x="668.30" y="153.90" font-size="8.2" text-anchor="middle" fill="#222" >8000</text>
<text x="568.00" y="167.60" font-size="8.6" text-anchor="middle" fill="#222" >Frequency [Hz]</text>
<text x="0" y="0" font-size="8.3" text-anchor="middle" fill="#222" transform="translate(443 81.6) rotate(-90)">Amplitude [µm·m/MV]</text>
<line x1="587.00" y1="24.90" x2="603.00" y2="24.90" stroke="#1c5f6f" stroke-width="1.5" />
<text x="607.70" y="27.50" font-size="7.2" text-anchor="start" fill="#222" >Design 1 (AlScN)</text>
<line x1="587.00" y1="36.60" x2="603.00" y2="36.60" stroke="#ee7f33" stroke-width="1.5" />
<text x="607.70" y="39.20" font-size="7.2" text-anchor="start" fill="#222" >Design 2 (AlScN)</text>
<line x1="587.00" y1="48.20" x2="603.00" y2="48.20" stroke="#a6a6a6" stroke-width="1.5" />
<text x="607.70" y="50.80" font-size="7.2" text-anchor="start" fill="#222" >Design 1 (AlN)</text>
<text x="489.20" y="36.60" font-size="7.2" text-anchor="start" fill="#222" >93.6</text>
<text x="513.60" y="31.90" font-size="6.8" font-style="italic" text-anchor="middle" fill="#222">µm·m</text>
<line x1="504.60" y1="33.40" x2="520.40" y2="33.40" stroke="#333" stroke-width="0.6" />
<text x="511.90" y="39.80" font-size="6.8" font-style="italic" text-anchor="middle" fill="#222">MV</text>
<text x="528.60" y="30.30" font-size="7.2" text-anchor="start" fill="#222" >450.7</text>
<text x="557.00" y="25.60" font-size="6.8" font-style="italic" text-anchor="middle" fill="#222">µm·m</text>
<line x1="548.00" y1="27.10" x2="563.80" y2="27.10" stroke="#333" stroke-width="0.6" />
<text x="555.30" y="33.50" font-size="6.8" font-style="italic" text-anchor="middle" fill="#222">MV</text>
<text x="546.80" y="49.30" font-size="7.2" text-anchor="start" fill="#222" >16.1</text>
<text x="571.20" y="44.60" font-size="6.8" font-style="italic" text-anchor="middle" fill="#222">µm·m</text>
<line x1="562.20" y1="46.10" x2="578.00" y2="46.10" stroke="#333" stroke-width="0.6" />
<text x="569.50" y="52.50" font-size="6.8" font-style="italic" text-anchor="middle" fill="#222">MV</text>
<text x="434.00" y="17.60" font-size="14.5" text-anchor="start" font-weight="bold" fill="#000" >c</text>
<polygon points="12.80,311.60 153.60,335.20 153.80,340.60 13.00,317.00" fill="#4a4a4a" stroke="none" stroke-width="1" />
<polygon points="191.40,220.50 153.60,335.20 153.80,340.60 155.50,336.40 193.30,221.70" fill="#585858" stroke="none" stroke-width="1" />
<polygon points="50.00,197.20 191.40,220.50 153.60,335.20 12.80,311.60" fill="#8b8b8b" stroke="#6a6a6a" stroke-width="0.5" />
<polygon points="60.80,211.20 173.50,230.10 143.40,319.20 31.40,301.60" fill="#ffffff" stroke="none" stroke-width="1" />
<polygon points="60.80,211.20 103.63,218.38 105.08,218.81 106.41,219.56 107.59,220.64 108.61,222.04 109.46,223.72 110.11,225.67 110.58,227.88 110.84,230.30 110.90,232.91 110.76,235.67 110.41,238.56 109.87,241.53 109.14,244.55 108.23,247.57 102.28,265.52 79.81,261.88 76.05,261.19 72.39,260.39 68.87,259.46 65.53,258.43 62.42,257.30 59.56,256.10 57.01,254.83 54.78,253.51 52.92,252.17 51.44,250.80 50.36,249.44 49.69,248.10 49.45,246.80 49.63,245.55" fill="#8e8e8e" stroke="#474747" stroke-width="0.6" />
<polygon points="107.63,249.37 108.81,246.17 110.20,243.05 111.78,240.05 113.54,237.20 115.46,234.55 117.50,232.12 119.64,229.94 121.86,228.05 124.13,226.46 126.41,225.20 128.69,224.28 130.93,223.72 133.10,223.52 135.18,223.67 173.50,230.10 162.06,263.96 161.45,265.12 160.41,266.20 158.98,267.18 157.16,268.05 154.97,268.80 152.45,269.43 149.63,269.91 146.55,270.25 143.23,270.45 139.73,270.49 136.08,270.38 132.34,270.12 128.54,269.72 124.74,269.18 102.28,265.52" fill="#8e8e8e" stroke="#474747" stroke-width="0.6" />
<polygon points="42.57,267.25 43.18,266.07 44.20,264.97 45.63,263.97 47.44,263.08 49.61,262.31 52.12,261.68 54.94,261.18 58.02,260.82 61.33,260.62 64.83,260.57 68.47,260.67 72.22,260.93 76.01,261.33 79.80,261.88 102.28,265.52 96.33,283.47 95.24,286.48 94.00,289.41 92.62,292.25 91.12,294.95 89.51,297.47 87.83,299.80 86.08,301.89 84.28,303.73 82.48,305.28 80.67,306.54 78.90,307.47 77.17,308.08 75.52,308.35 73.96,308.29 31.40,301.60" fill="#8e8e8e" stroke="#474747" stroke-width="0.6" />
<polygon points="102.28,265.52 124.74,269.18 128.50,269.86 132.15,270.66 135.68,271.59 139.01,272.61 142.13,273.73 144.97,274.93 147.52,276.18 149.74,277.49 151.60,278.82 153.07,280.16 154.14,281.51 154.80,282.83 155.03,284.11 154.84,285.34 143.40,319.20 100.84,312.51 99.39,312.11 98.07,311.37 96.90,310.31 95.89,308.93 95.06,307.26 94.41,305.32 93.95,303.14 93.69,300.73 93.64,298.13 93.78,295.37 94.13,292.49 94.68,289.52 95.41,286.50 96.33,283.47" fill="#8e8e8e" stroke="#474747" stroke-width="0.6" />
<polygon points="60.80,211.20 173.50,230.10 172.90,234.70 63.60,215.80" fill="#505050" stroke="none" stroke-width="1" />
<polygon points="60.80,211.20 64.00,215.80 34.60,301.60 31.40,301.60" fill="#5c5c5c" stroke="none" stroke-width="1" />
<ellipse cx="102.4" cy="265.6" rx="15.2" ry="11.6" transform="rotate(9 102.4 265.6)" fill="#8a7812"/>
<ellipse cx="102.2" cy="264.4" rx="15.2" ry="11.6" transform="rotate(9 102.2 264.4)" fill="#d1b81c" stroke="#7a6a10" stroke-width="0.4"/>
<line x1="158.10" y1="203.00" x2="136.35" y2="254.36" stroke="#000" stroke-width="1.1" />
<polygon points="134.60,258.50 134.52,253.04 138.58,254.75" fill="#000" stroke="none" stroke-width="1" />
<line x1="50.10" y1="337.60" x2="98.44" y2="267.90" stroke="#000" stroke-width="1.1" />
<polygon points="101.00,264.20 99.96,269.56 96.34,267.06" fill="#000" stroke="none" stroke-width="1" />
<text x="142.00" y="198.60" font-size="8.6" text-anchor="start" fill="#111" >Actuator</text>
<text x="27.80" y="348.90" font-size="8.6" text-anchor="start" fill="#111" >Mirror plate</text>
<text x="8.60" y="193.00" font-size="14.5" text-anchor="start" font-weight="bold" fill="#000" >d</text>
<line x1="241.50" y1="190.30" x2="427.30" y2="190.30" stroke="#222" stroke-width="1.2" />
<line x1="427.30" y1="190.30" x2="427.30" y2="339.80" stroke="#222" stroke-width="1.2" />
<line x1="241.50" y1="189.70" x2="241.50" y2="340.40" stroke="#111" stroke-width="1.4" />
<line x1="240.90" y1="339.80" x2="427.90" y2="339.80" stroke="#111" stroke-width="1.4" />
<line x1="238.80" y1="339.80" x2="241.50" y2="339.80" stroke="#111" stroke-width="1.0" />
<text x="233.00" y="342.70" font-size="8.2" text-anchor="end" font-weight="bold" fill="#111" >0</text>
<line x1="240.00" y1="326.20" x2="241.50" y2="326.20" stroke="#111" stroke-width="1.0" />
<line x1="238.80" y1="312.60" x2="241.50" y2="312.60" stroke="#111" stroke-width="1.0" />
<text x="233.00" y="315.50" font-size="8.2" text-anchor="end" font-weight="bold" fill="#111" >4</text>
<line x1="240.00" y1="299.00" x2="241.50" y2="299.00" stroke="#111" stroke-width="1.0" />
<line x1="238.80" y1="285.40" x2="241.50" y2="285.40" stroke="#111" stroke-width="1.0" />
<text x="233.00" y="288.30" font-size="8.2" text-anchor="end" font-weight="bold" fill="#111" >8</text>
<line x1="240.00" y1="271.80" x2="241.50" y2="271.80" stroke="#111" stroke-width="1.0" />
<line x1="238.80" y1="258.20" x2="241.50" y2="258.20" stroke="#111" stroke-width="1.0" />
<text x="233.00" y="261.10" font-size="8.2" text-anchor="end" font-weight="bold" fill="#111" >12</text>
<line x1="240.00" y1="244.60" x2="241.50" y2="244.60" stroke="#111" stroke-width="1.0" />
<line x1="238.80" y1="231.00" x2="241.50" y2="231.00" stroke="#111" stroke-width="1.0" />
<text x="233.00" y="233.90" font-size="8.2" text-anchor="end" font-weight="bold" fill="#111" >16</text>
<line x1="240.00" y1="217.40" x2="241.50" y2="217.40" stroke="#111" stroke-width="1.0" />
<line x1="238.80" y1="203.80" x2="241.50" y2="203.80" stroke="#111" stroke-width="1.0" />
<text x="233.00" y="206.70" font-size="8.2" text-anchor="end" font-weight="bold" fill="#111" >20</text>
<line x1="240.00" y1="190.20" x2="241.50" y2="190.20" stroke="#111" stroke-width="1.0" />
<line x1="241.50" y1="339.80" x2="241.50" y2="342.50" stroke="#111" stroke-width="1.0" />
<text x="241.50" y="353.40" font-size="8.2" text-anchor="middle" font-weight="bold" fill="#111" >0</text>
<line x1="256.42" y1="339.80" x2="256.42" y2="341.30" stroke="#111" stroke-width="1.0" />
<line x1="271.34" y1="339.80" x2="271.34" y2="342.50" stroke="#111" stroke-width="1.0" />
<text x="271.34" y="353.40" font-size="8.2" text-anchor="middle" font-weight="bold" fill="#111" >40</text>
<line x1="286.26" y1="339.80" x2="286.26" y2="341.30" stroke="#111" stroke-width="1.0" />
<line x1="301.18" y1="339.80" x2="301.18" y2="342.50" stroke="#111" stroke-width="1.0" />
<text x="301.18" y="353.40" font-size="8.2" text-anchor="middle" font-weight="bold" fill="#111" >80</text>
<line x1="316.10" y1="339.80" x2="316.10" y2="341.30" stroke="#111" stroke-width="1.0" />
<line x1="331.02" y1="339.80" x2="331.02" y2="342.50" stroke="#111" stroke-width="1.0" />
<text x="331.02" y="353.40" font-size="8.2" text-anchor="middle" font-weight="bold" fill="#111" >120</text>
<line x1="345.94" y1="339.80" x2="345.94" y2="341.30" stroke="#111" stroke-width="1.0" />
<line x1="360.86" y1="339.80" x2="360.86" y2="342.50" stroke="#111" stroke-width="1.0" />
<text x="360.86" y="353.40" font-size="8.2" text-anchor="middle" font-weight="bold" fill="#111" >160</text>
<line x1="375.78" y1="339.80" x2="375.78" y2="341.30" stroke="#111" stroke-width="1.0" />
<line x1="390.70" y1="339.80" x2="390.70" y2="342.50" stroke="#111" stroke-width="1.0" />
<text x="390.70" y="353.40" font-size="8.2" text-anchor="middle" font-weight="bold" fill="#111" >200</text>
<line x1="405.62" y1="339.80" x2="405.62" y2="341.30" stroke="#111" stroke-width="1.0" />
<line x1="420.54" y1="339.80" x2="420.54" y2="342.50" stroke="#111" stroke-width="1.0" />
<text x="420.54" y="353.40" font-size="8.2" text-anchor="middle" font-weight="bold" fill="#111" >240</text>
<text x="290.8" y="363.5" font-size="8.6" font-weight="bold" fill="#111">Applied voltage [V<tspan font-size="5.6" dy="2">pp</tspan><tspan dy="-2">]</tspan></text>
<text x="0" y="0" font-size="8.8" font-weight="bold" text-anchor="middle" fill="#111" transform="translate(216.4 265.4) rotate(-90)">TOSA [deg]</text>
<polyline points="256.4,325.5 271.3,314.0 286.3,299.7 301.2,291.9 316.1,281.3 331.0,269.4 345.9,256.8 360.9,247.3 375.8,238.5 390.7,224.2 405.6,214.3 418.8,199.7" fill="none" stroke="#111" stroke-width="1.3" stroke-linejoin="round" />
<polyline points="256.4,315.0 271.3,298.3 286.3,275.2 301.2,256.8 316.1,233.7 331.0,216.7 344.9,199.7" fill="none" stroke="#e0202a" stroke-width="1.3" stroke-linejoin="round" />
<circle cx="344.9" cy="201.5" r="6.8" fill="none" stroke="#e0202a" stroke-width="0.7" stroke-dasharray="1.2 1.0"/>
<circle cx="418.8" cy="201.5" r="6.8" fill="none" stroke="#333" stroke-width="0.7" stroke-dasharray="1.2 1.0"/>
<text x="325.2" y="201.2" font-size="8.5" font-weight="bold" fill="#e0202a">P<tspan font-size="5.5" dy="2">1</tspan></text>
<text x="397.6" y="201.2" font-size="8.5" font-weight="bold" fill="#111">P<tspan font-size="5.5" dy="2">2</tspan></text>
<line x1="386.80" y1="323.50" x2="401.60" y2="323.50" stroke="#111" stroke-width="1.3" />
<line x1="386.80" y1="332.70" x2="401.60" y2="332.70" stroke="#e0202a" stroke-width="1.3" />
<text x="404.30" y="326.10" font-size="7.4" text-anchor="start" font-weight="bold" fill="#111" >AlN</text>
<text x="404.30" y="335.30" font-size="7.4" text-anchor="start" font-weight="bold" fill="#e0202a" >AlScN</text>
<text x="205.30" y="192.40" font-size="14.5" text-anchor="start" font-weight="bold" fill="#000" >e</text>
<text x="441.50" y="192.40" font-size="14.5" text-anchor="start" font-weight="bold" fill="#000" >f</text>
<text x="470.30" y="191.40" font-size="8.8" text-anchor="middle" font-weight="bold" fill="#111" >−10°</text>
<text x="619.00" y="191.40" font-size="8.8" text-anchor="middle" font-weight="bold" fill="#111" >0°</text>
<text x="654.20" y="191.40" font-size="8.8" text-anchor="middle" font-weight="bold" fill="#111" >+10°</text>
<text x="503.00" y="191.40" font-size="8.8" text-anchor="start" font-weight="bold" fill="#111" >0°(Incident laser)</text>
<defs><clipPath id="c1l"><rect x="450.5" y="206" width="112.6" height="73"/></clipPath><clipPath id="c1r"><rect x="563.1" y="206" width="114" height="73"/></clipPath><clipPath id="c2l"><rect x="450.2" y="290.2" width="113.3" height="72.3"/></clipPath><clipPath id="c2r"><rect x="563.5" y="290.2" width="113.6" height="72.3"/></clipPath><filter id="bl" x="-5%" y="-5%" width="110%" height="110%"><feGaussianBlur stdDeviation="0.45"/></filter><radialGradient id="pk"><stop offset="0" stop-color="#ffffff"/><stop offset="0.06" stop-color="#ffe0f0"/><stop offset="0.13" stop-color="#ff4098" stop-opacity="0.95"/><stop offset="0.28" stop-color="#e0307e" stop-opacity="0.55"/><stop offset="0.55" stop-color="#c03070" stop-opacity="0.2"/><stop offset="1" stop-color="#a03060" stop-opacity="0"/></radialGradient><radialGradient id="hz"><stop offset="0" stop-color="#e04088" stop-opacity="0.28"/><stop offset="1" stop-color="#e04088" stop-opacity="0"/></radialGradient><radialGradient id="vg2l" cx="0.5" cy="0.5" r="0.6"><stop offset="0" stop-color="#58625f"/><stop offset="1" stop-color="#4a5351"/></radialGradient><radialGradient id="vg2r" cx="0.45" cy="0.5" r="0.6"><stop offset="0" stop-color="#616974"/><stop offset="0.7" stop-color="#575e68"/><stop offset="1" stop-color="#474c55"/></radialGradient><radialGradient id="pks"><stop offset="0" stop-color="#ffffff"/><stop offset="0.15" stop-color="#ffd8ec"/><stop offset="0.35" stop-color="#ff3a90" stop-opacity="0.9"/><stop offset="0.7" stop-color="#d02878" stop-opacity="0.35"/><stop offset="1" stop-color="#b02870" stop-opacity="0"/></radialGradient><radialGradient id="pk1"><stop offset="0" stop-color="#ffffff"/><stop offset="0.25" stop-color="#f0c0c8" stop-opacity="0.9"/><stop offset="0.6" stop-color="#d890a0" stop-opacity="0.6"/><stop offset="1" stop-color="#c89098" stop-opacity="0"/></radialGradient></defs>
<g clip-path="url(#c1l)"><g filter="url(#bl)">
<rect x="445" y="200" width="125" height="85" fill="#bec0b7"/>
<rect x="541" y="200" width="22.1" height="85" fill="#c4c5c0"/>
<circle cx="505.3" cy="242.7" r="52" fill="#afb3a6"/>
<circle cx="505.3" cy="242.7" r="2.65" fill="none" stroke="#4c5046" stroke-width="0.5"/>
<circle cx="505.3" cy="242.7" r="5.30" fill="none" stroke="#4c5046" stroke-width="0.5"/>
<circle cx="505.3" cy="242.7" r="7.95" fill="none" stroke="#4c5046" stroke-width="0.5"/>
<circle cx="505.3" cy="242.7" r="10.60" fill="none" stroke="#4c5046" stroke-width="0.5"/>
<circle cx="505.3" cy="242.7" r="13.25" fill="none" stroke="#4c5046" stroke-width="0.5"/>
<circle cx="505.3" cy="242.7" r="19.60" fill="none" stroke="#3e4238" stroke-width="0.45"/>
<circle cx="505.3" cy="242.7" r="23.30" fill="none" stroke="#3e4238" stroke-width="0.45"/>
<circle cx="505.3" cy="242.7" r="27.00" fill="none" stroke="#3e4238" stroke-width="0.45"/>
<circle cx="505.3" cy="242.7" r="30.80" fill="none" stroke="#3e4238" stroke-width="0.45"/>
<circle cx="505.3" cy="242.7" r="38.90" fill="none" stroke="#3e4238" stroke-width="0.45"/>
<circle cx="505.3" cy="242.7" r="43.30" fill="none" stroke="#3e4238" stroke-width="0.45"/>
<circle cx="505.3" cy="242.7" r="47.60" fill="none" stroke="#3e4238" stroke-width="0.45"/>
<circle cx="505.3" cy="242.7" r="16.0" fill="none" stroke="#3e4238" stroke-width="0.8"/>
<circle cx="505.3" cy="242.7" r="34.5" fill="none" stroke="#3e4238" stroke-width="0.7"/>
<circle cx="505.3" cy="242.7" r="52.0" fill="none" stroke="#3e4238" stroke-width="0.8"/>
<line x1="521.30" y1="242.70" x2="557.30" y2="242.70" stroke="#3e4238" stroke-width="0.45" />
<line x1="521.06" y1="245.48" x2="556.51" y2="251.73" stroke="#3e4238" stroke-width="0.45" />
<line x1="520.34" y1="248.17" x2="554.16" y2="260.49" stroke="#3e4238" stroke-width="0.45" />
<line x1="519.16" y1="250.70" x2="550.33" y2="268.70" stroke="#3e4238" stroke-width="0.45" />
<line x1="517.56" y1="252.98" x2="545.13" y2="276.12" stroke="#3e4238" stroke-width="0.45" />
<line x1="515.58" y1="254.96" x2="538.72" y2="282.53" stroke="#3e4238" stroke-width="0.45" />
<line x1="513.30" y1="256.56" x2="531.30" y2="287.73" stroke="#3e4238" stroke-width="0.45" />
<line x1="510.77" y1="257.74" x2="523.09" y2="291.56" stroke="#3e4238" stroke-width="0.45" />
<line x1="508.08" y1="258.46" x2="514.33" y2="293.91" stroke="#3e4238" stroke-width="0.45" />
<line x1="505.30" y1="258.70" x2="505.30" y2="294.70" stroke="#3e4238" stroke-width="0.45" />
<line x1="502.52" y1="258.46" x2="496.27" y2="293.91" stroke="#3e4238" stroke-width="0.45" />
<line x1="499.83" y1="257.74" x2="487.51" y2="291.56" stroke="#3e4238" stroke-width="0.45" />
<line x1="497.30" y1="256.56" x2="479.30" y2="287.73" stroke="#3e4238" stroke-width="0.45" />
<line x1="495.02" y1="254.96" x2="471.88" y2="282.53" stroke="#3e4238" stroke-width="0.45" />
<line x1="493.04" y1="252.98" x2="465.47" y2="276.12" stroke="#3e4238" stroke-width="0.45" />
<line x1="491.44" y1="250.70" x2="460.27" y2="268.70" stroke="#3e4238" stroke-width="0.45" />
<line x1="490.26" y1="248.17" x2="456.44" y2="260.49" stroke="#3e4238" stroke-width="0.45" />
<line x1="489.54" y1="245.48" x2="454.09" y2="251.73" stroke="#3e4238" stroke-width="0.45" />
<line x1="489.30" y1="242.70" x2="453.30" y2="242.70" stroke="#3e4238" stroke-width="0.45" />
<line x1="489.54" y1="239.92" x2="454.09" y2="233.67" stroke="#3e4238" stroke-width="0.45" />
<line x1="490.26" y1="237.23" x2="456.44" y2="224.91" stroke="#3e4238" stroke-width="0.45" />
<line x1="491.44" y1="234.70" x2="460.27" y2="216.70" stroke="#3e4238" stroke-width="0.45" />
<line x1="493.04" y1="232.42" x2="465.47" y2="209.28" stroke="#3e4238" stroke-width="0.45" />
<line x1="495.02" y1="230.44" x2="471.88" y2="202.87" stroke="#3e4238" stroke-width="0.45" />
<line x1="497.30" y1="228.84" x2="479.30" y2="197.67" stroke="#3e4238" stroke-width="0.45" />
<line x1="499.83" y1="227.66" x2="487.51" y2="193.84" stroke="#3e4238" stroke-width="0.45" />
<line x1="502.52" y1="226.94" x2="496.27" y2="191.49" stroke="#3e4238" stroke-width="0.45" />
<line x1="505.30" y1="226.70" x2="505.30" y2="190.70" stroke="#3e4238" stroke-width="0.45" />
<line x1="508.08" y1="226.94" x2="514.33" y2="191.49" stroke="#3e4238" stroke-width="0.45" />
<line x1="510.77" y1="227.66" x2="523.09" y2="193.84" stroke="#3e4238" stroke-width="0.45" />
<line x1="513.30" y1="228.84" x2="531.30" y2="197.67" stroke="#3e4238" stroke-width="0.45" />
<line x1="515.58" y1="230.44" x2="538.72" y2="202.87" stroke="#3e4238" stroke-width="0.45" />
<line x1="517.56" y1="232.42" x2="545.13" y2="209.28" stroke="#3e4238" stroke-width="0.45" />
<line x1="519.16" y1="234.70" x2="550.33" y2="216.70" stroke="#3e4238" stroke-width="0.45" />
<line x1="520.34" y1="237.23" x2="554.16" y2="224.91" stroke="#3e4238" stroke-width="0.45" />
<line x1="521.06" y1="239.92" x2="556.51" y2="233.67" stroke="#3e4238" stroke-width="0.45" />
<line x1="452.30" y1="242.70" x2="558.30" y2="242.70" stroke="#2a2c26" stroke-width="0.7" />
<line x1="505.30" y1="189.70" x2="505.30" y2="295.70" stroke="#2a2c26" stroke-width="0.7" />
<circle cx="505.3" cy="242.7" r="5.5" fill="url(#pk1)"/>
<circle cx="470.5" cy="242.7" r="3.8" fill="url(#pk1)"/>
</g></g>
<g clip-path="url(#c1r)"><g filter="url(#bl)">
<rect x="560" y="200" width="125" height="85" fill="#b9bcb2"/>
<circle cx="619.3" cy="242.7" r="52" fill="#aeb2a4"/>
<circle cx="619.3" cy="242.7" r="2.65" fill="none" stroke="#4c5046" stroke-width="0.5"/>
<circle cx="619.3" cy="242.7" r="5.30" fill="none" stroke="#4c5046" stroke-width="0.5"/>
<circle cx="619.3" cy="242.7" r="7.95" fill="none" stroke="#4c5046" stroke-width="0.5"/>
<circle cx="619.3" cy="242.7" r="10.60" fill="none" stroke="#4c5046" stroke-width="0.5"/>
<circle cx="619.3" cy="242.7" r="13.25" fill="none" stroke="#4c5046" stroke-width="0.5"/>
<circle cx="619.3" cy="242.7" r="19.60" fill="none" stroke="#3e4238" stroke-width="0.45"/>
<circle cx="619.3" cy="242.7" r="23.30" fill="none" stroke="#3e4238" stroke-width="0.45"/>
<circle cx="619.3" cy="242.7" r="27.00" fill="none" stroke="#3e4238" stroke-width="0.45"/>
<circle cx="619.3" cy="242.7" r="30.80" fill="none" stroke="#3e4238" stroke-width="0.45"/>
<circle cx="619.3" cy="242.7" r="38.90" fill="none" stroke="#3e4238" stroke-width="0.45"/>
<circle cx="619.3" cy="242.7" r="43.30" fill="none" stroke="#3e4238" stroke-width="0.45"/>
<circle cx="619.3" cy="242.7" r="47.60" fill="none" stroke="#3e4238" stroke-width="0.45"/>
<circle cx="619.3" cy="242.7" r="16.0" fill="none" stroke="#3e4238" stroke-width="0.8"/>
<circle cx="619.3" cy="242.7" r="34.5" fill="none" stroke="#3e4238" stroke-width="0.7"/>
<circle cx="619.3" cy="242.7" r="52.0" fill="none" stroke="#3e4238" stroke-width="0.8"/>
<line x1="635.30" y1="242.70" x2="671.30" y2="242.70" stroke="#3e4238" stroke-width="0.45" />
<line x1="635.06" y1="245.48" x2="670.51" y2="251.73" stroke="#3e4238" stroke-width="0.45" />
<line x1="634.34" y1="248.17" x2="668.16" y2="260.49" stroke="#3e4238" stroke-width="0.45" />
<line x1="633.16" y1="250.70" x2="664.33" y2="268.70" stroke="#3e4238" stroke-width="0.45" />
<line x1="631.56" y1="252.98" x2="659.13" y2="276.12" stroke="#3e4238" stroke-width="0.45" />
<line x1="629.58" y1="254.96" x2="652.72" y2="282.53" stroke="#3e4238" stroke-width="0.45" />
<line x1="627.30" y1="256.56" x2="645.30" y2="287.73" stroke="#3e4238" stroke-width="0.45" />
<line x1="624.77" y1="257.74" x2="637.09" y2="291.56" stroke="#3e4238" stroke-width="0.45" />
<line x1="622.08" y1="258.46" x2="628.33" y2="293.91" stroke="#3e4238" stroke-width="0.45" />
<line x1="619.30" y1="258.70" x2="619.30" y2="294.70" stroke="#3e4238" stroke-width="0.45" />
<line x1="616.52" y1="258.46" x2="610.27" y2="293.91" stroke="#3e4238" stroke-width="0.45" />
<line x1="613.83" y1="257.74" x2="601.51" y2="291.56" stroke="#3e4238" stroke-width="0.45" />
<line x1="611.30" y1="256.56" x2="593.30" y2="287.73" stroke="#3e4238" stroke-width="0.45" />
<line x1="609.02" y1="254.96" x2="585.88" y2="282.53" stroke="#3e4238" stroke-width="0.45" />
<line x1="607.04" y1="252.98" x2="579.47" y2="276.12" stroke="#3e4238" stroke-width="0.45" />
<line x1="605.44" y1="250.70" x2="574.27" y2="268.70" stroke="#3e4238" stroke-width="0.45" />
<line x1="604.26" y1="248.17" x2="570.44" y2="260.49" stroke="#3e4238" stroke-width="0.45" />
<line x1="603.54" y1="245.48" x2="568.09" y2="251.73" stroke="#3e4238" stroke-width="0.45" />
<line x1="603.30" y1="242.70" x2="567.30" y2="242.70" stroke="#3e4238" stroke-width="0.45" />
<line x1="603.54" y1="239.92" x2="568.09" y2="233.67" stroke="#3e4238" stroke-width="0.45" />
<line x1="604.26" y1="237.23" x2="570.44" y2="224.91" stroke="#3e4238" stroke-width="0.45" />
<line x1="605.44" y1="234.70" x2="574.27" y2="216.70" stroke="#3e4238" stroke-width="0.45" />
<line x1="607.04" y1="232.42" x2="579.47" y2="209.28" stroke="#3e4238" stroke-width="0.45" />
<line x1="609.02" y1="230.44" x2="585.88" y2="202.87" stroke="#3e4238" stroke-width="0.45" />
<line x1="611.30" y1="228.84" x2="593.30" y2="197.67" stroke="#3e4238" stroke-width="0.45" />
<line x1="613.83" y1="227.66" x2="601.51" y2="193.84" stroke="#3e4238" stroke-width="0.45" />
<line x1="616.52" y1="226.94" x2="610.27" y2="191.49" stroke="#3e4238" stroke-width="0.45" />
<line x1="619.30" y1="226.70" x2="619.30" y2="190.70" stroke="#3e4238" stroke-width="0.45" />
<line x1="622.08" y1="226.94" x2="628.33" y2="191.49" stroke="#3e4238" stroke-width="0.45" />
<line x1="624.77" y1="227.66" x2="637.09" y2="193.84" stroke="#3e4238" stroke-width="0.45" />
<line x1="627.30" y1="228.84" x2="645.30" y2="197.67" stroke="#3e4238" stroke-width="0.45" />
<line x1="629.58" y1="230.44" x2="652.72" y2="202.87" stroke="#3e4238" stroke-width="0.45" />
<line x1="631.56" y1="232.42" x2="659.13" y2="209.28" stroke="#3e4238" stroke-width="0.45" />
<line x1="633.16" y1="234.70" x2="664.33" y2="216.70" stroke="#3e4238" stroke-width="0.45" />
<line x1="634.34" y1="237.23" x2="668.16" y2="224.91" stroke="#3e4238" stroke-width="0.45" />
<line x1="635.06" y1="239.92" x2="670.51" y2="233.67" stroke="#3e4238" stroke-width="0.45" />
<line x1="566.30" y1="242.70" x2="672.30" y2="242.70" stroke="#2a2c26" stroke-width="0.7" />
<line x1="619.30" y1="189.70" x2="619.30" y2="295.70" stroke="#2a2c26" stroke-width="0.7" />
<circle cx="619.3" cy="242.7" r="5.5" fill="url(#pk1)"/>
<circle cx="654.3" cy="243.5" r="3.8" fill="url(#pk1)"/>
</g></g>
<rect x="450.3" y="205.8" width="227" height="73.6" fill="none" stroke="#e3121c" stroke-width="1.8"/>
<rect x="451.2" y="206.7" width="18.2" height="15.8" fill="#fff"/>
<text x="453.6" y="218.6" font-size="10" font-weight="bold" fill="#e0202a">P<tspan font-size="6.2" dy="2.2">1</tspan></text>
<g clip-path="url(#c2l)"><g filter="url(#bl)">
<rect x="445" y="285" width="125" height="85" fill="url(#vg2l)"/>
<rect x="550" y="285" width="13.5" height="85" fill="#4e5750"/>
<circle cx="505.3" cy="327.3" r="2.65" fill="none" stroke="#465050" stroke-width="0.5"/>
<circle cx="505.3" cy="327.3" r="5.30" fill="none" stroke="#465050" stroke-width="0.5"/>
<circle cx="505.3" cy="327.3" r="7.95" fill="none" stroke="#465050" stroke-width="0.5"/>
<circle cx="505.3" cy="327.3" r="10.60" fill="none" stroke="#465050" stroke-width="0.5"/>
<circle cx="505.3" cy="327.3" r="13.25" fill="none" stroke="#465050" stroke-width="0.5"/>
<circle cx="505.3" cy="327.3" r="19.60" fill="none" stroke="#3f4847" stroke-width="0.45"/>
<circle cx="505.3" cy="327.3" r="23.30" fill="none" stroke="#3f4847" stroke-width="0.45"/>
<circle cx="505.3" cy="327.3" r="27.00" fill="none" stroke="#3f4847" stroke-width="0.45"/>
<circle cx="505.3" cy="327.3" r="30.80" fill="none" stroke="#3f4847" stroke-width="0.45"/>
<circle cx="505.3" cy="327.3" r="38.90" fill="none" stroke="#3f4847" stroke-width="0.45"/>
<circle cx="505.3" cy="327.3" r="43.30" fill="none" stroke="#3f4847" stroke-width="0.45"/>
<circle cx="505.3" cy="327.3" r="47.60" fill="none" stroke="#3f4847" stroke-width="0.45"/>
<circle cx="505.3" cy="327.3" r="16.0" fill="none" stroke="#3f4847" stroke-width="0.8"/>
<circle cx="505.3" cy="327.3" r="34.5" fill="none" stroke="#3f4847" stroke-width="0.7"/>
<circle cx="505.3" cy="327.3" r="52.0" fill="none" stroke="#3f4847" stroke-width="0.8"/>
<line x1="521.30" y1="327.30" x2="557.30" y2="327.30" stroke="#3f4847" stroke-width="0.45" />
<line x1="521.06" y1="330.08" x2="556.51" y2="336.33" stroke="#3f4847" stroke-width="0.45" />
<line x1="520.34" y1="332.77" x2="554.16" y2="345.09" stroke="#3f4847" stroke-width="0.45" />
<line x1="519.16" y1="335.30" x2="550.33" y2="353.30" stroke="#3f4847" stroke-width="0.45" />
<line x1="517.56" y1="337.58" x2="545.13" y2="360.72" stroke="#3f4847" stroke-width="0.45" />
<line x1="515.58" y1="339.56" x2="538.72" y2="367.13" stroke="#3f4847" stroke-width="0.45" />
<line x1="513.30" y1="341.16" x2="531.30" y2="372.33" stroke="#3f4847" stroke-width="0.45" />
<line x1="510.77" y1="342.34" x2="523.09" y2="376.16" stroke="#3f4847" stroke-width="0.45" />
<line x1="508.08" y1="343.06" x2="514.33" y2="378.51" stroke="#3f4847" stroke-width="0.45" />
<line x1="505.30" y1="343.30" x2="505.30" y2="379.30" stroke="#3f4847" stroke-width="0.45" />
<line x1="502.52" y1="343.06" x2="496.27" y2="378.51" stroke="#3f4847" stroke-width="0.45" />
<line x1="499.83" y1="342.34" x2="487.51" y2="376.16" stroke="#3f4847" stroke-width="0.45" />
<line x1="497.30" y1="341.16" x2="479.30" y2="372.33" stroke="#3f4847" stroke-width="0.45" />
<line x1="495.02" y1="339.56" x2="471.88" y2="367.13" stroke="#3f4847" stroke-width="0.45" />
<line x1="493.04" y1="337.58" x2="465.47" y2="360.72" stroke="#3f4847" stroke-width="0.45" />
<line x1="491.44" y1="335.30" x2="460.27" y2="353.30" stroke="#3f4847" stroke-width="0.45" />
<line x1="490.26" y1="332.77" x2="456.44" y2="345.09" stroke="#3f4847" stroke-width="0.45" />
<line x1="489.54" y1="330.08" x2="454.09" y2="336.33" stroke="#3f4847" stroke-width="0.45" />
<line x1="489.30" y1="327.30" x2="453.30" y2="327.30" stroke="#3f4847" stroke-width="0.45" />
<line x1="489.54" y1="324.52" x2="454.09" y2="318.27" stroke="#3f4847" stroke-width="0.45" />
<line x1="490.26" y1="321.83" x2="456.44" y2="309.51" stroke="#3f4847" stroke-width="0.45" />
<line x1="491.44" y1="319.30" x2="460.27" y2="301.30" stroke="#3f4847" stroke-width="0.45" />
<line x1="493.04" y1="317.02" x2="465.47" y2="293.88" stroke="#3f4847" stroke-width="0.45" />
<line x1="495.02" y1="315.04" x2="471.88" y2="287.47" stroke="#3f4847" stroke-width="0.45" />
<line x1="497.30" y1="313.44" x2="479.30" y2="282.27" stroke="#3f4847" stroke-width="0.45" />
<line x1="499.83" y1="312.26" x2="487.51" y2="278.44" stroke="#3f4847" stroke-width="0.45" />
<line x1="502.52" y1="311.54" x2="496.27" y2="276.09" stroke="#3f4847" stroke-width="0.45" />
<line x1="505.30" y1="311.30" x2="505.30" y2="275.30" stroke="#3f4847" stroke-width="0.45" />
<line x1="508.08" y1="311.54" x2="514.33" y2="276.09" stroke="#3f4847" stroke-width="0.45" />
<line x1="510.77" y1="312.26" x2="523.09" y2="278.44" stroke="#3f4847" stroke-width="0.45" />
<line x1="513.30" y1="313.44" x2="531.30" y2="282.27" stroke="#3f4847" stroke-width="0.45" />
<line x1="515.58" y1="315.04" x2="538.72" y2="287.47" stroke="#3f4847" stroke-width="0.45" />
<line x1="517.56" y1="317.02" x2="545.13" y2="293.88" stroke="#3f4847" stroke-width="0.45" />
<line x1="519.16" y1="319.30" x2="550.33" y2="301.30" stroke="#3f4847" stroke-width="0.45" />
<line x1="520.34" y1="321.83" x2="554.16" y2="309.51" stroke="#3f4847" stroke-width="0.45" />
<line x1="521.06" y1="324.52" x2="556.51" y2="318.27" stroke="#3f4847" stroke-width="0.45" />
<line x1="452.30" y1="327.30" x2="558.30" y2="327.30" stroke="#333b3b" stroke-width="0.7" />
<line x1="505.30" y1="274.30" x2="505.30" y2="380.30" stroke="#333b3b" stroke-width="0.7" />
<circle cx="505.3" cy="327.4" r="22" fill="url(#pk)" opacity="0.9"/>
<circle cx="480" cy="336" r="20" fill="url(#hz)"/>
<circle cx="470.5" cy="326.2" r="10" fill="url(#hz)"/>
<circle cx="470.5" cy="326.2" r="5.5" fill="url(#pks)"/>
</g></g>
<g clip-path="url(#c2r)"><g filter="url(#bl)">
<rect x="560" y="285" width="125" height="85" fill="url(#vg2r)"/>
<rect x="560" y="285" width="12" height="85" fill="#667079" opacity="0.8"/>
<circle cx="619.3" cy="327.3" r="2.65" fill="none" stroke="#4c535b" stroke-width="0.5"/>
<circle cx="619.3" cy="327.3" r="5.30" fill="none" stroke="#4c535b" stroke-width="0.5"/>
<circle cx="619.3" cy="327.3" r="7.95" fill="none" stroke="#4c535b" stroke-width="0.5"/>
<circle cx="619.3" cy="327.3" r="10.60" fill="none" stroke="#4c535b" stroke-width="0.5"/>
<circle cx="619.3" cy="327.3" r="13.25" fill="none" stroke="#4c535b" stroke-width="0.5"/>
<circle cx="619.3" cy="327.3" r="19.60" fill="none" stroke="#444b53" stroke-width="0.45"/>
<circle cx="619.3" cy="327.3" r="23.30" fill="none" stroke="#444b53" stroke-width="0.45"/>
<circle cx="619.3" cy="327.3" r="27.00" fill="none" stroke="#444b53" stroke-width="0.45"/>
<circle cx="619.3" cy="327.3" r="30.80" fill="none" stroke="#444b53" stroke-width="0.45"/>
<circle cx="619.3" cy="327.3" r="38.90" fill="none" stroke="#444b53" stroke-width="0.45"/>
<circle cx="619.3" cy="327.3" r="43.30" fill="none" stroke="#444b53" stroke-width="0.45"/>
<circle cx="619.3" cy="327.3" r="47.60" fill="none" stroke="#444b53" stroke-width="0.45"/>
<circle cx="619.3" cy="327.3" r="16.0" fill="none" stroke="#444b53" stroke-width="0.8"/>
<circle cx="619.3" cy="327.3" r="34.5" fill="none" stroke="#444b53" stroke-width="0.7"/>
<circle cx="619.3" cy="327.3" r="52.0" fill="none" stroke="#444b53" stroke-width="0.8"/>
<line x1="635.30" y1="327.30" x2="671.30" y2="327.30" stroke="#444b53" stroke-width="0.45" />
<line x1="635.06" y1="330.08" x2="670.51" y2="336.33" stroke="#444b53" stroke-width="0.45" />
<line x1="634.34" y1="332.77" x2="668.16" y2="345.09" stroke="#444b53" stroke-width="0.45" />
<line x1="633.16" y1="335.30" x2="664.33" y2="353.30" stroke="#444b53" stroke-width="0.45" />
<line x1="631.56" y1="337.58" x2="659.13" y2="360.72" stroke="#444b53" stroke-width="0.45" />
<line x1="629.58" y1="339.56" x2="652.72" y2="367.13" stroke="#444b53" stroke-width="0.45" />
<line x1="627.30" y1="341.16" x2="645.30" y2="372.33" stroke="#444b53" stroke-width="0.45" />
<line x1="624.77" y1="342.34" x2="637.09" y2="376.16" stroke="#444b53" stroke-width="0.45" />
<line x1="622.08" y1="343.06" x2="628.33" y2="378.51" stroke="#444b53" stroke-width="0.45" />
<line x1="619.30" y1="343.30" x2="619.30" y2="379.30" stroke="#444b53" stroke-width="0.45" />
<line x1="616.52" y1="343.06" x2="610.27" y2="378.51" stroke="#444b53" stroke-width="0.45" />
<line x1="613.83" y1="342.34" x2="601.51" y2="376.16" stroke="#444b53" stroke-width="0.45" />
<line x1="611.30" y1="341.16" x2="593.30" y2="372.33" stroke="#444b53" stroke-width="0.45" />
<line x1="609.02" y1="339.56" x2="585.88" y2="367.13" stroke="#444b53" stroke-width="0.45" />
<line x1="607.04" y1="337.58" x2="579.47" y2="360.72" stroke="#444b53" stroke-width="0.45" />
<line x1="605.44" y1="335.30" x2="574.27" y2="353.30" stroke="#444b53" stroke-width="0.45" />
<line x1="604.26" y1="332.77" x2="570.44" y2="345.09" stroke="#444b53" stroke-width="0.45" />
<line x1="603.54" y1="330.08" x2="568.09" y2="336.33" stroke="#444b53" stroke-width="0.45" />
<line x1="603.30" y1="327.30" x2="567.30" y2="327.30" stroke="#444b53" stroke-width="0.45" />
<line x1="603.54" y1="324.52" x2="568.09" y2="318.27" stroke="#444b53" stroke-width="0.45" />
<line x1="604.26" y1="321.83" x2="570.44" y2="309.51" stroke="#444b53" stroke-width="0.45" />
<line x1="605.44" y1="319.30" x2="574.27" y2="301.30" stroke="#444b53" stroke-width="0.45" />
<line x1="607.04" y1="317.02" x2="579.47" y2="293.88" stroke="#444b53" stroke-width="0.45" />
<line x1="609.02" y1="315.04" x2="585.88" y2="287.47" stroke="#444b53" stroke-width="0.45" />
<line x1="611.30" y1="313.44" x2="593.30" y2="282.27" stroke="#444b53" stroke-width="0.45" />
<line x1="613.83" y1="312.26" x2="601.51" y2="278.44" stroke="#444b53" stroke-width="0.45" />
<line x1="616.52" y1="311.54" x2="610.27" y2="276.09" stroke="#444b53" stroke-width="0.45" />
<line x1="619.30" y1="311.30" x2="619.30" y2="275.30" stroke="#444b53" stroke-width="0.45" />
<line x1="622.08" y1="311.54" x2="628.33" y2="276.09" stroke="#444b53" stroke-width="0.45" />
<line x1="624.77" y1="312.26" x2="637.09" y2="278.44" stroke="#444b53" stroke-width="0.45" />
<line x1="627.30" y1="313.44" x2="645.30" y2="282.27" stroke="#444b53" stroke-width="0.45" />
<line x1="629.58" y1="315.04" x2="652.72" y2="287.47" stroke="#444b53" stroke-width="0.45" />
<line x1="631.56" y1="317.02" x2="659.13" y2="293.88" stroke="#444b53" stroke-width="0.45" />
<line x1="633.16" y1="319.30" x2="664.33" y2="301.30" stroke="#444b53" stroke-width="0.45" />
<line x1="634.34" y1="321.83" x2="668.16" y2="309.51" stroke="#444b53" stroke-width="0.45" />
<line x1="635.06" y1="324.52" x2="670.51" y2="318.27" stroke="#444b53" stroke-width="0.45" />
<line x1="566.30" y1="327.30" x2="672.30" y2="327.30" stroke="#363c43" stroke-width="0.7" />
<line x1="619.30" y1="274.30" x2="619.30" y2="380.30" stroke="#363c43" stroke-width="0.7" />
<circle cx="619.3" cy="327.3" r="22" fill="url(#pk)" opacity="0.9"/>
<circle cx="654.4" cy="327.6" r="4.5" fill="url(#pks)"/>
</g></g>
<rect x="450.1" y="290.1" width="227" height="72.6" fill="none" stroke="#0a0a0a" stroke-width="2"/>
<rect x="451.2" y="291.2" width="18.8" height="15.6" fill="#fff"/>
<text x="453.6" y="302.6" font-size="10" font-weight="bold" fill="#111">P<tspan font-size="6.2" dy="2.2">2</tspan></text>
<line x1="470.50" y1="196.00" x2="470.50" y2="205.00" stroke="#555" stroke-width="0.6" stroke-dasharray="1.4 1.0"/>
<line x1="470.50" y1="280.50" x2="470.50" y2="289.00" stroke="#555" stroke-width="0.6" stroke-dasharray="1.4 1.0"/>
<line x1="470.50" y1="207.00" x2="470.50" y2="279.00" stroke="#333" stroke-width="0.5" stroke-dasharray="1.4 1.0"/>
<line x1="470.50" y1="291.00" x2="470.50" y2="362.00" stroke="#1a1a1a" stroke-width="0.5" stroke-dasharray="1.4 1.0"/>
<line x1="505.30" y1="196.00" x2="505.30" y2="205.00" stroke="#555" stroke-width="0.6" stroke-dasharray="1.4 1.0"/>
<line x1="505.30" y1="280.50" x2="505.30" y2="289.00" stroke="#555" stroke-width="0.6" stroke-dasharray="1.4 1.0"/>
<line x1="619.30" y1="196.00" x2="619.30" y2="205.00" stroke="#555" stroke-width="0.6" stroke-dasharray="1.4 1.0"/>
<line x1="619.30" y1="280.50" x2="619.30" y2="289.00" stroke="#555" stroke-width="0.6" stroke-dasharray="1.4 1.0"/>
<line x1="654.40" y1="196.00" x2="654.40" y2="205.00" stroke="#555" stroke-width="0.6" stroke-dasharray="1.4 1.0"/>
<line x1="654.40" y1="280.50" x2="654.40" y2="289.00" stroke="#555" stroke-width="0.6" stroke-dasharray="1.4 1.0"/>
<line x1="654.40" y1="207.00" x2="654.40" y2="279.00" stroke="#333" stroke-width="0.5" stroke-dasharray="1.4 1.0"/>
<line x1="654.40" y1="291.00" x2="654.40" y2="362.00" stroke="#1a1a1a" stroke-width="0.5" stroke-dasharray="1.4 1.0"/>
<rect x="0" y="0" width="685" height="3" fill="#000"/>
<rect x="0" y="0" width="3" height="370" fill="#000"/>
<rect x="682" y="0" width="3" height="370" fill="#000"/>
<rect x="0" y="367" width="685" height="3" fill="#000"/>
<rect x="0" y="175" width="685" height="3" fill="#000"/>
</svg>
</body></html>
